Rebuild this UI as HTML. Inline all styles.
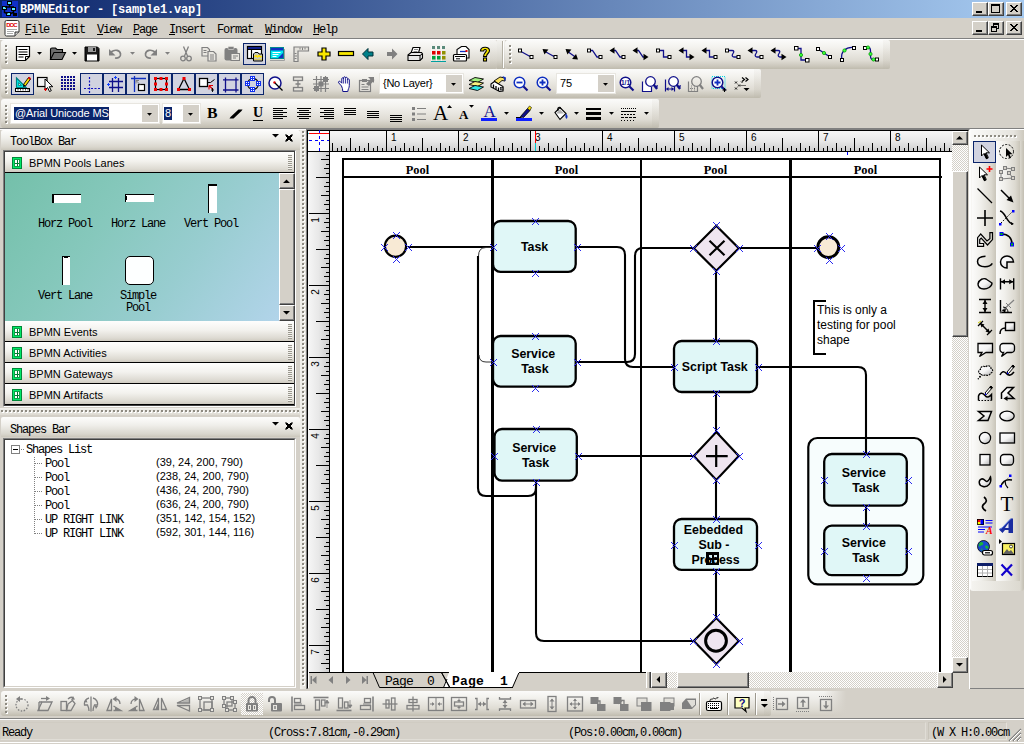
<!DOCTYPE html><html><head><meta charset="utf-8"><title>BPMNEditor</title><style>
*{box-sizing:border-box;margin:0;padding:0}
html,body{width:1024px;height:744px;overflow:hidden;background:#d4d0c8}
body{font-family:"Liberation Mono",monospace;font-size:12px;color:#000;position:relative}
.a{position:absolute}
.ss{font-family:"Liberation Sans",sans-serif}
.sf{font-family:"Liberation Serif",serif}
.mono{font-family:"Liberation Mono",monospace;font-size:12px;letter-spacing:-1.2px;white-space:pre}
.tb{position:absolute;height:29px;border-radius:3px 2px 2px 3px;background:linear-gradient(#fbfbfa 0%,#f3f2ee 25%,#dfdcd4 70%,#cbc7bc 90%,#bfbbae 100%)}
.tb:after{content:'';position:absolute;right:0;top:0;width:7px;height:100%;background:linear-gradient(rgba(212,208,200,0.12),rgba(190,186,174,0.3));border-radius:0 2px 2px 0}
.grip{position:absolute;left:4px;top:5px;width:3px;height:19px}
.chk{position:absolute;width:23px;height:22px;background:#d1d3e0;border:1px solid #0a246a}
.btn3d{position:absolute;background:#d4d0c8;border:1px solid;border-color:#fff #404040 #404040 #fff;box-shadow:inset -1px -1px 0 #808080}
.sunk{position:absolute;border:1px solid;border-color:#808080 #fff #fff #808080}
svg{position:absolute;overflow:visible}
.lbl{position:absolute;text-align:center;font-family:"Liberation Sans",sans-serif;font-weight:bold;font-size:12.4px;line-height:15px}
</style></head><body>
<svg style="left:0;top:0" width="0" height="0"><defs><pattern id="gr" width="4" height="4" patternUnits="userSpaceOnUse"><rect x="1" y="1" width="2" height="2" fill="#fff"/><rect x="0" y="0" width="2" height="2" fill="#8e8b82"/></pattern></defs></svg>
<div class="a" style="left:0;top:0;width:1024px;height:18px;background:linear-gradient(90deg,#0a246a 0%,#a6caf0 100%)"></div>
<div class="a mono" style="left:20px;top:3px;color:#fff;font-weight:bold;font-size:12px;letter-spacing:-0.2px">BPMNEditor - [sample1.vap]</div>
<svg style="left:2px;top:1px" width="16" height="16" viewBox="0 0 16 16"><rect width="16" height="16" fill="#1030c8"/><path d="M5 0h5v4H5zM0 5h5v4H0zM9 6h5v4H9zM4 11h5v4H4zM11 12h4v3h-4z" fill="#000"/><path d="M6 1h3v2H6zM1 6h3v2H1zM10 7h3v2h-3zM5 12h3v2H5z" fill="#60e8ff"/><path d="M7.500 4v2H3M8 6h4M2.500 9v2.500l3 1M11.500 10v1.500l-3 1" stroke="#000" stroke-width="1.500" fill="none"/></svg>
<div class="btn3d" style="left:972px;top:2px;width:16px;height:14px"></div><div class="a" style="left:976px;top:11px;width:6px;height:2px;background:#000"></div><div class="btn3d" style="left:988px;top:2px;width:16px;height:14px"></div><div class="a" style="left:991px;top:4px;width:9px;height:9px;border:1px solid #000;border-top-width:2px"></div><div class="btn3d" style="left:1006px;top:2px;width:16px;height:14px"></div><svg style="left:1010px;top:5px" width="8" height="7" viewBox="0 0 8 7"><path d="M0 0L7 7M1 0L8 7M7 0L0 7M8 0L1 7" stroke="#000" stroke-width="1" shape-rendering="crispEdges"/></svg>
<div class="btn3d" style="left:972px;top:21px;width:16px;height:14px"></div><div class="a" style="left:976px;top:30px;width:6px;height:2px;background:#000"></div><div class="btn3d" style="left:988px;top:21px;width:16px;height:14px"></div><div class="a" style="left:993px;top:23px;width:6px;height:6px;border:1px solid #000;border-top-width:2px"></div><div class="a" style="left:991px;top:26px;width:6px;height:6px;border:1px solid #000;border-top-width:2px;background:#d4d0c8"></div><div class="btn3d" style="left:1006px;top:21px;width:16px;height:14px"></div><svg style="left:1010px;top:24px" width="8" height="7" viewBox="0 0 8 7"><path d="M0 0L7 7M1 0L8 7M7 0L0 7M8 0L1 7" stroke="#000" stroke-width="1" shape-rendering="crispEdges"/></svg>
<svg style="left:4px;top:20px" width="16" height="17" viewBox="0 0 16 17"><path d="M2.500 0.500H13.500Q15 0.500 15 2V12L11 16H2.500Q1 16 1 14.500V2Q1 0.500 2.500 0.500Z" fill="#fff" stroke="#333"/><path d="M11 16V12H15" fill="#ccc" stroke="#333"/><path d="M3 9.500h10M3 11.500h7M3 13.500h6" stroke="#aaa"/><text x="2.200" y="7.200" font-family="Liberation Sans" font-size="6" font-weight="bold" fill="#e00000" textLength="11.500">DOC</text></svg>
<div class="a mono" style="left:25px;top:23px"><u>F</u>ile</div>
<div class="a mono" style="left:61px;top:23px"><u>E</u>dit</div>
<div class="a mono" style="left:97px;top:23px"><u>V</u>iew</div>
<div class="a mono" style="left:133px;top:23px"><u>P</u>age</div>
<div class="a mono" style="left:169px;top:23px"><u>I</u>nsert</div>
<div class="a mono" style="left:217px;top:23px">Format</div>
<div class="a mono" style="left:265px;top:23px"><u>W</u>indow</div>
<div class="a mono" style="left:313px;top:23px"><u>H</u>elp</div>
<div class="a" style="left:0;top:38px;width:1024px;height:1px;background:#808080"></div><div class="a" style="left:0;top:39px;width:1024px;height:1px;background:#fff"></div>
<div class="tb" style="left:1px;top:40px;width:496px"><svg class="grip" style="top:5px" width="3" height="19" viewBox="0 0 3 19" shape-rendering="crispEdges"><rect width="3" height="19" fill="url(#gr)"/></svg></div>
<div class="a" style="left:497px;top:40px;width:8px;height:29px;background:linear-gradient(#f4f3f0 0%,#e9e8e3 25%,#d6d3ca 70%,#c3bfb3 90%,#bab6a9 100%)"></div>
<div class="tb" style="left:505px;top:40px;width:385px"><svg class="grip" style="top:5px" width="3" height="19" viewBox="0 0 3 19" shape-rendering="crispEdges"><rect width="3" height="19" fill="url(#gr)"/></svg></div>
<div class="tb" style="left:1px;top:69px;width:760px"><svg class="grip" style="top:6px" width="3" height="19" viewBox="0 0 3 19" shape-rendering="crispEdges"><rect width="3" height="19" fill="url(#gr)"/></svg></div>
<div class="tb" style="left:1px;top:99px;width:658px"><svg class="grip" style="top:6px" width="3" height="19" viewBox="0 0 3 19" shape-rendering="crispEdges"><rect width="3" height="19" fill="url(#gr)"/></svg></div>
<svg style="left:15.0px;top:45.5px" width="16" height="16" viewBox="0 0 16 16"><path d="M1.500 0.500H14.500V10.500L10.500 14.500H1.500Z" fill="#fff" stroke="#000" stroke-width="1.200"/><path d="M10.500 14.500V10.500H14.500" fill="none" stroke="#000"/><path d="M3.500 3.500h9M3.500 6h9M3.500 8.500h9M3.500 11h5" stroke="#000" stroke-width="1.100"/></svg>
<svg style="left:37.0px;top:52.0px" width="5" height="3" viewBox="0 0 5 3"><path d="M0 0h5L2.500 2.800z" fill="#000"/></svg>
<svg style="left:50.0px;top:45.5px" width="16" height="16" viewBox="0 0 16 16"><path d="M0.500 13.500V3.500Q0.500 2 2 2H5.500L7 3.500H12.500V6" fill="#6e6e6e" stroke="#000" stroke-width="1.100"/><path d="M0.500 13.500L4 6.500H15.500L12 13.500Z" fill="#6e6e6e" stroke="#000" stroke-width="1.100"/></svg>
<svg style="left:72.0px;top:52.0px" width="5" height="3" viewBox="0 0 5 3"><path d="M0 0h5L2.500 2.800z" fill="#000"/></svg>
<svg style="left:84.0px;top:45.5px" width="16" height="16" viewBox="0 0 16 16"><path d="M1 1h12.500L15 2.500V15H1Z" fill="#1a1a1a" stroke="#000"/><rect x="4" y="1" width="8" height="5" fill="#9a9a9a"/><rect x="9" y="2" width="2" height="3" fill="#1a1a1a"/><rect x="3" y="8.500" width="10" height="6" fill="#fff"/></svg>
<svg style="left:108.0px;top:45.5px" width="16" height="16" viewBox="0 0 16 16"><path d="M3 6C7 3 12 4 12.500 8C13 11 10 12.500 7 12" fill="none" stroke="#808080" stroke-width="1.700"/><path d="M1 3v6.500h6.500z" fill="#808080"/></svg>
<svg style="left:130.0px;top:52.0px" width="5" height="3" viewBox="0 0 5 3"><path d="M0 0h5L2.500 2.800z" fill="#808080"/></svg>
<svg style="left:142.0px;top:45.5px" width="16" height="16" viewBox="0 0 16 16"><path d="M13 6C9 3 4 4 3.500 8C3 11 6 12.500 9 12" fill="none" stroke="#808080" stroke-width="1.700"/><path d="M15 3v6.500h-6.500z" fill="#808080"/></svg>
<svg style="left:165.0px;top:52.0px" width="5" height="3" viewBox="0 0 5 3"><path d="M0 0h5L2.500 2.800z" fill="#808080"/></svg>
<svg style="left:177.5px;top:45.5px" width="16" height="16" viewBox="0 0 16 16"><path d="M5.500 0.500L9.500 10M10.500 0.500L6.500 10" stroke="#808080" stroke-width="1.300"/><circle cx="5" cy="12.500" r="2.300" fill="none" stroke="#808080" stroke-width="1.300"/><circle cx="11" cy="12.500" r="2.300" fill="none" stroke="#808080" stroke-width="1.300"/></svg>
<svg style="left:200.5px;top:45.5px" width="16" height="16" viewBox="0 0 16 16"><path d="M1 1.500h5.500l2 2V10H1z" fill="#e8e6e0" stroke="#808080" stroke-width="1.200"/><path d="M7 5.500h5.500l2.500 2.500V15H7z" fill="#e8e6e0" stroke="#808080" stroke-width="1.200"/><path d="M2.500 4.500h3M2.500 6.500h3M9 9h4M9 11h4M9 13h4" stroke="#808080"/></svg>
<svg style="left:223.5px;top:45.5px" width="16" height="16" viewBox="0 0 16 16"><rect x="0.500" y="2" width="13" height="12.500" rx="2" fill="#808080"/><rect x="4" y="0.500" width="6" height="3" rx="1" fill="#808080" stroke="#e8e6e0" stroke-width=".6"/><rect x="7" y="7.500" width="8.500" height="7" fill="#e8e6e0" stroke="#808080"/><path d="M9 10h5M9 12h3" stroke="#808080"/></svg>
<div class="chk" style="left:243px;top:43px"></div>
<svg style="left:247.0px;top:46.0px" width="16" height="16" viewBox="0 0 16 16"><rect x="0.500" y="0.500" width="14" height="12" fill="#fff" stroke="#000" stroke-width="1.200"/><rect x="0.500" y="0.500" width="14" height="3" fill="#10208a" stroke="#000"/><path d="M4.500 3.500v9" stroke="#000" stroke-width="1.200"/><path d="M6.500 15V8L8 6.500h3L12 8h3.500V15Z" fill="#c8c8b8" stroke="#000"/><path d="M7.500 11l1.500-1.500 1.500 1.500 1.500-1.500 1.500 1.500 1-1" stroke="#ffe000" stroke-width="1.500" fill="none"/><path d="M7.500 13.500h7" stroke="#e0c000" stroke-dasharray="1 1"/></svg>
<svg style="left:269.0px;top:45.5px" width="16" height="16" viewBox="0 0 16 16"><rect x="1.500" y="1.500" width="13" height="11" fill="#00e8f0" stroke="#008890"/><rect x="2" y="2" width="12" height="2.500" fill="#1030c0"/><path d="M3.500 6.500h8M3.500 8.500h6M3.500 10.500h4" stroke="#fff" stroke-width="1.200"/><path d="M9 12l5-5v5z" fill="#1030c0"/><path d="M1 14.500h14.500V3" fill="none" stroke="#a0a0a0"/></svg>
<svg style="left:292.5px;top:45.5px" width="16" height="16" viewBox="0 0 16 16"><path d="M1 1H15.500V5H5V15.500H1Z" fill="#e4e2dc" stroke="#808080" stroke-width="1.200"/><path d="M7 1.500v2M9.500 1.500v2.500M12 1.500v2M1.500 7.500h2M1.500 10h2.500M1.500 12.500h2" stroke="#808080"/></svg>
<svg style="left:315.5px;top:45.5px" width="16" height="16" viewBox="0 0 16 16"><path d="M6 2h4v4h4v4h-4v4H6v-4H2V6h4z" fill="#f8e800" stroke="#000" stroke-width="1.200"/></svg>
<svg style="left:337.5px;top:45.0px" width="16" height="17" viewBox="0 0 16 17"><rect x="0.500" y="6.500" width="15" height="4" fill="#f8e800" stroke="#000" stroke-width="1.200"/></svg>
<svg style="left:360.0px;top:45.5px" width="16" height="16" viewBox="0 0 16 16"><path d="M2.500 8L8 2.500V6H13V10H8V13.500Z" fill="#008088" stroke="#003038" stroke-width="1"/></svg>
<svg style="left:384.0px;top:45.5px" width="16" height="16" viewBox="0 0 16 16"><path d="M13.500 8L8 2.500V6H3V10H8V13.500Z" fill="#808080"/></svg>
<svg style="left:407.0px;top:45.5px" width="16" height="16" viewBox="0 0 16 16"><path d="M4 7L6 1.500H13L11.500 7" fill="#fff" stroke="#000" stroke-width="1.100"/><path d="M1 9L4 6.500H14.500L15.500 8V12L13 14.500H1Z" fill="#e8e8e8" stroke="#000" stroke-width="1.100"/><path d="M1 9.500H13L15.500 8M13 9.500V14.500" fill="none" stroke="#000"/><path d="M7 3.500h4M6.500 5.500h4" stroke="#888"/></svg>
<svg style="left:430.5px;top:45.5px" width="15" height="16" viewBox="0 0 15 16"><rect x="1" y="0" width="3" height="3" fill="#5a8a7a"/><rect x="6" y="0" width="3" height="3" fill="#5a8a7a"/><rect x="11" y="0" width="3" height="3" fill="#5a8a7a"/><rect x="1" y="5" width="3.500" height="3.500" fill="#e00000"/><rect x="6" y="5" width="3.500" height="3.500" fill="#e00000"/><rect x="11" y="5" width="3.500" height="3.500" fill="#909000"/><rect x="1" y="10" width="3.500" height="3.500" fill="#00a040"/><rect x="6" y="10" width="3.500" height="3.500" fill="#00a040"/><rect x="11" y="10" width="3.500" height="3.500" fill="#909000"/><path d="M0 15.500h15" stroke="#00a0a0"/><path d="M0.500 0V15M5.500 0V15M10.500 0V15" stroke="#fff" stroke-width=".6"/></svg>
<svg style="left:453.0px;top:45.5px" width="17" height="16" viewBox="0 0 17 16"><path d="M4 8V3.500L8.500 0.500H13L16 3.500V12H13" fill="#fff" stroke="#000" stroke-width="1.100"/><path d="M7 5.500h6" stroke="#1030c0" stroke-width="1.300"/><rect x="12.500" y="4" width="2" height="2" fill="#e00000"/><rect x="0.500" y="8.500" width="13" height="6.500" rx="1" fill="#fff" stroke="#000" stroke-width="1.200"/><path d="M2 10.500h10M3 12.800h4" stroke="#000"/></svg>
<svg style="left:478.5px;top:45.5px" width="12" height="16" viewBox="0 0 12 16"><path d="M1.500 5C1.500 0 10.500 0 10.500 4.500C10.500 7.500 7.500 7.500 7.500 10.500H4.500C4.500 7 7.300 6.500 7.300 4.500C7.300 3 4.700 3 4.700 5Z" fill="#f8e800" stroke="#000" stroke-width="1.100"/><rect x="4.500" y="12" width="3" height="3" fill="#f8e800" stroke="#000" stroke-width="1.100"/></svg>
<div class="a" style="left:503px;top:41px;width:1px;height:27px;background:#fff"></div><div class="a" style="left:502px;top:41px;width:1px;height:27px;background:#b4b0a4"></div>
<svg style="left:517.5px;top:45.5px" width="16" height="16" viewBox="0 0 16 16"><path d="M3 5.500L13 11" stroke="#10108a" stroke-width="1.300"/><rect x="0.5" y="3" width="3" height="3" fill="#fff" stroke="#000"/><rect x="12" y="9.5" width="3" height="3" fill="#fff" stroke="#000"/></svg>
<svg style="left:541.5px;top:45.5px" width="16" height="16" viewBox="0 0 16 16"><path d="M3 5.500L13 11" stroke="#10108a" stroke-width="1.300"/><path d="M0 0L-5 -3.200V3.200Z" fill="#000" transform="translate(0.5,3) rotate(-142)"/><rect x="12" y="9.5" width="3" height="3" fill="#fff" stroke="#000"/></svg>
<svg style="left:563.6px;top:45.5px" width="16" height="16" viewBox="0 0 16 16"><path d="M3 5L12 11.500" stroke="#10108a" stroke-width="1.300"/><path d="M0 0L-5 -3.200V3.200Z" fill="#000" transform="translate(1.5,3) rotate(-142)"/><path d="M0 0L-5 -3.200V3.200Z" fill="#000" transform="translate(14,13.5) rotate(38)"/></svg>
<svg style="left:586.5px;top:45.5px" width="16" height="16" viewBox="0 0 16 16"><path d="M3.500 4.500H5.500L10 11H12" fill="none" stroke="#10108a" stroke-width="1.300"/><rect x="0.5" y="3" width="3" height="3" fill="#fff" stroke="#000"/><rect x="12" y="9.5" width="3" height="3" fill="#fff" stroke="#000"/></svg>
<svg style="left:609.7px;top:45.5px" width="16" height="16" viewBox="0 0 16 16"><path d="M3.500 4.500H5.500L10 11H12" fill="none" stroke="#10108a" stroke-width="1.300"/><path d="M0 0L-5 -3.200V3.200Z" fill="#000" transform="translate(-0.5,4.5) rotate(180)"/><rect x="12" y="9.5" width="3" height="3" fill="#fff" stroke="#000"/></svg>
<svg style="left:632.5px;top:45.5px" width="16" height="16" viewBox="0 0 16 16"><path d="M3.500 4.500H5.500L10 11H12" fill="none" stroke="#10108a" stroke-width="1.300"/><path d="M0 0L-5 -3.200V3.200Z" fill="#000" transform="translate(-0.5,4.5) rotate(180)"/><path d="M0 0L-5 -3.200V3.200Z" fill="#000" transform="translate(15.5,11) rotate(0)"/></svg>
<svg style="left:655.7px;top:45.5px" width="16" height="16" viewBox="0 0 16 16"><path d="M3.500 4.500H7.500V11H12" fill="none" stroke="#10108a" stroke-width="1.300"/><rect x="0.5" y="3" width="3" height="3" fill="#fff" stroke="#000"/><rect x="12" y="9.5" width="3" height="3" fill="#fff" stroke="#000"/></svg>
<svg style="left:678.6px;top:45.5px" width="16" height="16" viewBox="0 0 16 16"><path d="M3.500 4.500H7.500V11H12" fill="none" stroke="#10108a" stroke-width="1.300"/><path d="M0 0L-5 -3.200V3.200Z" fill="#000" transform="translate(-0.5,4.5) rotate(180)"/><path d="M0 0L-5 -3.200V3.200Z" fill="#000" transform="translate(15.5,11) rotate(0)"/></svg>
<svg style="left:701.5px;top:45.5px" width="16" height="16" viewBox="0 0 16 16"><path d="M3.500 4.500H7.500V11H12" fill="none" stroke="#10108a" stroke-width="1.300"/><path d="M0 0L-5 -3.200V3.200Z" fill="#000" transform="translate(-0.5,4.5) rotate(180)"/><rect x="12" y="9.5" width="3" height="3" fill="#fff" stroke="#000"/></svg>
<svg style="left:724.5px;top:45.5px" width="16" height="16" viewBox="0 0 16 16"><path d="M3.500 4.500H7Q10 4.500 8 7.500T9 11H12" fill="none" stroke="#10108a" stroke-width="1.300"/><rect x="0.5" y="3" width="3" height="3" fill="#fff" stroke="#000"/><rect x="12" y="9.5" width="3" height="3" fill="#fff" stroke="#000"/></svg>
<svg style="left:747.5px;top:45.5px" width="16" height="16" viewBox="0 0 16 16"><path d="M3.500 4.500H7Q10 4.500 8 7.500T9 11H12" fill="none" stroke="#10108a" stroke-width="1.300"/><path d="M0 0L-5 -3.200V3.200Z" fill="#000" transform="translate(-0.5,4.5) rotate(180)"/><rect x="12" y="9.5" width="3" height="3" fill="#fff" stroke="#000"/></svg>
<svg style="left:770.5px;top:45.5px" width="16" height="16" viewBox="0 0 16 16"><path d="M3.500 4.500H7Q10 4.500 8 7.500T9 11H12" fill="none" stroke="#10108a" stroke-width="1.300"/><path d="M0 0L-5 -3.200V3.200Z" fill="#000" transform="translate(-0.5,4.5) rotate(180)"/><path d="M0 0L-5 -3.200V3.200Z" fill="#000" transform="translate(15.5,11) rotate(0)"/></svg>
<svg style="left:793.7px;top:45.5px" width="16" height="16" viewBox="0 0 16 16"><path d="M3 2.500H7V14H12" fill="none" stroke="#10108a" stroke-width="1.300"/><rect x="0.5" y="0.5" width="3.500" height="3.500" fill="#fff" stroke="#000"/><rect x="11.5" y="12.5" width="3.500" height="3.500" fill="#fff" stroke="#000"/><circle cx="7" cy="9" r="1.600" fill="#40ff40" stroke="#00a000" stroke-width=".8"/></svg>
<svg style="left:816.0px;top:45.5px" width="16" height="16" viewBox="0 0 16 16"><path d="M2 3L14 11" fill="none" stroke="#10108a" stroke-width="1.300"/><rect x="0.500" y="1.500" width="3" height="3" fill="#fff" stroke="#000"/><rect x="12.500" y="9.500" width="3" height="3" fill="#fff" stroke="#000"/><circle cx="8" cy="7" r="1.600" fill="#40ff40" stroke="#00a000" stroke-width=".8"/></svg>
<svg style="left:840.0px;top:45.5px" width="16" height="16" viewBox="0 0 16 16"><path d="M2 13C0 6 6 1 13 1.500" fill="none" stroke="#10108a" stroke-width="1.300"/><rect x="12.500" y="0.500" width="3" height="3" fill="#fff" stroke="#000"/><rect x="0.500" y="12.500" width="3" height="3" fill="#fff" stroke="#000"/><circle cx="4.5" cy="4.5" r="1.600" fill="#40ff40" stroke="#00a000" stroke-width=".8"/></svg>
<svg style="left:863.0px;top:45.5px" width="16" height="16" viewBox="0 0 16 16"><path d="M3 1.500H5Q7.500 1.500 7.500 5V10Q7.500 13.500 10 13.500H13" fill="none" stroke="#10108a" stroke-width="1.300"/><rect x="0.500" y="0.500" width="3" height="3" fill="#fff" stroke="#000"/><rect x="12.500" y="12" width="3" height="3" fill="#fff" stroke="#000"/><circle cx="5" cy="1.5" r="1.600" fill="#40ff40" stroke="#00a000" stroke-width=".8"/><circle cx="7.5" cy="8" r="1.600" fill="#40ff40" stroke="#00a000" stroke-width=".8"/><circle cx="10.5" cy="13.5" r="1.600" fill="#40ff40" stroke="#00a000" stroke-width=".8"/></svg>
<div class="chk" style="left:11px;top:73px"></div>
<svg style="left:14.5px;top:75.5px" width="16" height="16" viewBox="0 0 16 16"><path d="M1.500 11.500L1.500 2L11 11.500Z" fill="#00e8e8" stroke="#008080" stroke-width="1.200"/><path d="M3.500 9.500V6.500L6.500 9.500Z" fill="#d1d3e0" stroke="#008080" stroke-width=".8"/><rect x="0.500" y="12.500" width="14" height="3" fill="#fff" stroke="#000"/><path d="M3 13v1.500M5.500 13v1.500M8 13v1.500M10.500 13v1.500M13 13v1.500" stroke="#000" stroke-width=".7"/><path d="M8.500 8.500L13.500 1.500L15.500 3L10.500 10Z" fill="#f8e000" stroke="#000" stroke-width=".9"/><path d="M8.500 8.500L8 11l2.500-1z" fill="#000"/><path d="M13.500 1.500l2 1.500" stroke="#e00000" stroke-width="2"/></svg>
<svg style="left:37.0px;top:75.5px" width="17" height="16" viewBox="0 0 17 16"><rect x="0.500" y="1.500" width="9.500" height="9" fill="#f4f4f4" stroke="#000" stroke-width="1.200"/><path d="M8 3v11l2.500-2.500 2 4 1.800-.8-2-4h3.500z" fill="#fff" stroke="#000" stroke-width="1"/><path d="M7 13.500h3M8.500 12v3" stroke="#e00000" stroke-width="1.200"/></svg>
<svg style="left:61px;top:76px" width="14" height="14" viewBox="0 0 14 14" shape-rendering="crispEdges"><rect x="0" y="0" width="2" height="2" fill="#10108a"/><rect x="0" y="3" width="2" height="2" fill="#10108a"/><rect x="0" y="6" width="2" height="2" fill="#10108a"/><rect x="0" y="9" width="2" height="2" fill="#10108a"/><rect x="0" y="12" width="2" height="2" fill="#10108a"/><rect x="3" y="0" width="2" height="2" fill="#10108a"/><rect x="3" y="3" width="2" height="2" fill="#10108a"/><rect x="3" y="6" width="2" height="2" fill="#10108a"/><rect x="3" y="9" width="2" height="2" fill="#10108a"/><rect x="3" y="12" width="2" height="2" fill="#10108a"/><rect x="6" y="0" width="2" height="2" fill="#10108a"/><rect x="6" y="3" width="2" height="2" fill="#10108a"/><rect x="6" y="6" width="2" height="2" fill="#10108a"/><rect x="6" y="9" width="2" height="2" fill="#10108a"/><rect x="6" y="12" width="2" height="2" fill="#10108a"/><rect x="9" y="0" width="2" height="2" fill="#10108a"/><rect x="9" y="3" width="2" height="2" fill="#10108a"/><rect x="9" y="6" width="2" height="2" fill="#10108a"/><rect x="9" y="9" width="2" height="2" fill="#10108a"/><rect x="9" y="12" width="2" height="2" fill="#10108a"/><rect x="12" y="0" width="2" height="2" fill="#10108a"/><rect x="12" y="3" width="2" height="2" fill="#10108a"/><rect x="12" y="6" width="2" height="2" fill="#10108a"/><rect x="12" y="9" width="2" height="2" fill="#10108a"/><rect x="12" y="12" width="2" height="2" fill="#10108a"/></svg>
<div class="chk" style="left:80px;top:73px"></div>
<div class="chk" style="left:103px;top:73px"></div>
<div class="chk" style="left:126px;top:73px"></div>
<div class="chk" style="left:149px;top:73px"></div>
<div class="chk" style="left:172px;top:73px"></div>
<div class="chk" style="left:195px;top:73px"></div>
<div class="chk" style="left:218px;top:73px"></div>
<div class="chk" style="left:241px;top:73px"></div>
<svg style="left:83.5px;top:75.5px" width="16" height="16" viewBox="0 0 16 16"><path d="M5.500 1V17M0 12.500H16" stroke="#1010c0" stroke-dasharray="2 1.500" stroke-width="1.200"/></svg>
<svg style="left:106.5px;top:75.5px" width="16" height="16" viewBox="0 0 16 16"><path d="M5.500 2V16M11.500 2V16M2 5.500H16M2 11.500H16" stroke="#10108a" stroke-width="1.300"/><path d="M0 8.500h3M1.500 7v3M8.500 0v3M7 1.500h3" stroke="#1040ff" stroke-width="1"/></svg>
<svg style="left:129.5px;top:75.5px" width="16" height="16" viewBox="0 0 16 16"><path d="M4.500 0V16M1 2.500H16" stroke="#1030c0" stroke-width="1.300"/><rect x="8.500" y="8.500" width="6" height="6" fill="#fff" stroke="#000" stroke-width="1.200"/><path d="M6 4.500l4 4M6 4.500v3M6 4.500h3" stroke="#808080" stroke-width="1"/></svg>
<svg style="left:152.5px;top:75.5px" width="16" height="16" viewBox="0 0 16 16"><rect x="2.500" y="2.500" width="11" height="11" fill="none" stroke="#000" stroke-width="1.200"/><rect x="1" y="1" width="3" height="3" fill="#f00000"/><rect x="6.5" y="1" width="3" height="3" fill="#f00000"/><rect x="12" y="1" width="3" height="3" fill="#f00000"/><rect x="1" y="6.5" width="3" height="3" fill="#f00000"/><rect x="12" y="6.5" width="3" height="3" fill="#f00000"/><rect x="1" y="12" width="3" height="3" fill="#f00000"/><rect x="6.5" y="12" width="3" height="3" fill="#f00000"/><rect x="12" y="12" width="3" height="3" fill="#f00000"/></svg>
<svg style="left:175.5px;top:75.5px" width="16" height="16" viewBox="0 0 16 16"><path d="M8 2.500L2.500 13.500H13.500Z" fill="none" stroke="#000" stroke-width="1.300"/><rect x="6.500" y="1" width="3" height="3" fill="#f00000"/><rect x="1" y="12" width="3" height="3" fill="#f00000"/><rect x="12" y="12" width="3" height="3" fill="#f00000"/></svg>
<svg style="left:198.5px;top:75.5px" width="16" height="16" viewBox="0 0 16 16"><rect x="0.500" y="2.500" width="8" height="8" fill="#fff" stroke="#000" stroke-width="1.300"/><path d="M8.500 6.500h3l4-3" stroke="#000" fill="none"/><path d="M10 9.500h4M10 9.500v4M10 9.500l4 4" stroke="#e00000" stroke-width="1.100"/><path d="M13.500 12v4M12 14h3" stroke="#000" stroke-width=".9"/></svg>
<svg style="left:221.5px;top:75.5px" width="16" height="16" viewBox="0 0 16 16"><path d="M3.500 1.500V16.500M14 1.500V16.500M1 3.800H16.500M1 14H16.500" stroke="#10108a" stroke-width="1.300"/></svg>
<svg style="left:245px;top:76px" width="16" height="16" viewBox="0 0 16 16"><circle cx="8" cy="8" r="5.500" fill="none" stroke="#000" stroke-width="1.200"/><g shape-rendering="crispEdges"><rect x="5" y="0" width="5" height="5" fill="#1030f0"/><rect x="6" y="1" width="1" height="1" fill="#fff"/><rect x="8" y="1" width="1" height="1" fill="#fff"/><rect x="6" y="3" width="1" height="1" fill="#fff"/><rect x="8" y="3" width="1" height="1" fill="#fff"/><rect x="5" y="11" width="5" height="5" fill="#1030f0"/><rect x="6" y="12" width="1" height="1" fill="#fff"/><rect x="8" y="12" width="1" height="1" fill="#fff"/><rect x="6" y="14" width="1" height="1" fill="#fff"/><rect x="8" y="14" width="1" height="1" fill="#fff"/><rect x="0" y="5" width="5" height="5" fill="#1030f0"/><rect x="1" y="6" width="1" height="1" fill="#fff"/><rect x="3" y="6" width="1" height="1" fill="#fff"/><rect x="1" y="8" width="1" height="1" fill="#fff"/><rect x="3" y="8" width="1" height="1" fill="#fff"/><rect x="11" y="5" width="5" height="5" fill="#1030f0"/><rect x="12" y="6" width="1" height="1" fill="#fff"/><rect x="14" y="6" width="1" height="1" fill="#fff"/><rect x="12" y="8" width="1" height="1" fill="#fff"/><rect x="14" y="8" width="1" height="1" fill="#fff"/></g></svg>
<svg style="left:267.5px;top:75.5px" width="16" height="16" viewBox="0 0 16 16"><circle cx="7" cy="7" r="6" fill="#fff" stroke="#10108a" stroke-width="1.500"/><circle cx="6.500" cy="6.500" r="1.200" fill="#e00000"/><path d="M7 7L14.500 14.500" stroke="#000" stroke-width="1.300"/></svg>
<svg style="left:289.5px;top:75.5px" width="16" height="16" viewBox="0 0 16 16"><rect x="3.500" y="1" width="9" height="3.500" fill="#e4e2dc" stroke="#808080" stroke-width="1.300"/><rect x="3.500" y="11.500" width="9" height="3.500" fill="#e4e2dc" stroke="#808080" stroke-width="1.300"/><path d="M8 4.500v7M5.500 8h5" stroke="#808080" stroke-width="1.300"/></svg>
<svg style="left:312.5px;top:75.5px" width="16" height="16" viewBox="0 0 16 16"><path d="M3.500 0V16M8 0V16M12.500 0V16M0 3.500H16M0 8H16M0 12.500H16" stroke="#808080" stroke-width="1.200"/><rect x="10" y="1" width="5" height="5" fill="#808080"/><rect x="5.500" y="5.500" width="5" height="5" fill="#808080"/><rect x="1" y="10" width="5" height="5" fill="#808080"/></svg>
<svg style="left:336.5px;top:75.5px" width="14" height="16" viewBox="0 0 14 16"><path d="M4.500 10L1.800 7C0.800 5.800 2.300 4.600 3.300 5.600L4.800 7.200V2.800C4.800 1.400 6.600 1.400 6.600 2.800V1.800C6.600 0.400 8.500 0.400 8.500 1.800V2.300C8.500 1 10.400 1 10.400 2.300V3.800C10.400 2.600 12.300 2.600 12.300 3.800V9.500C12.300 12 11 13 10.800 15.500H5.800C5.800 13.500 5.300 11.500 4.500 10Z" fill="#fff" stroke="#10108a" stroke-width="1"/><path d="M6.600 3V7.500M8.500 2.500V7.500M10.400 4V7.500" stroke="#10108a" stroke-width=".8"/></svg>
<svg style="left:358.5px;top:75.5px" width="16" height="16" viewBox="0 0 16 16"><rect x="0.500" y="4.500" width="11" height="11" fill="#e4e2dc" stroke="#808080" stroke-width="1.200"/><rect x="3" y="3" width="5" height="3" fill="#808080"/><path d="M2.500 8.500h3M2.500 11h7M2.500 13.500h7" stroke="#808080"/><path d="M7 8L13 1.500L15.500 4L10 10Z" fill="#808080"/><path d="M9 1l6 0 0 6z" fill="#808080"/></svg>
<div class="a" style="left:380px;top:74px;width:83px;height:19px;background:#fff;border:1px solid #fff;box-shadow:0 0 0 1px #e8e6e0"></div>
<div class="a" style="left:446px;top:75px;width:16px;height:17px;background:#d4d0c8"></div>
<svg style="left:451.0px;top:82.5px" width="5" height="3" viewBox="0 0 5 3"><path d="M0 0h5L2.500 2.800z" fill="#000"/></svg>
<div class="a ss" style="left:383px;top:76px;font-size:11px;line-height:14px;letter-spacing:-0.25px">{No Layer}</div>
<svg style="left:467.5px;top:75.5px" width="16" height="16" viewBox="0 0 16 16"><path d="M1 4.500L7 1.500L15.500 3L9.500 6.500Z" fill="#a0f080" stroke="#000" stroke-width=".9"/><path d="M1 8.500L7 5.500L15.500 7L9.500 10.500Z" fill="#f8f080" stroke="#000" stroke-width=".9"/><path d="M1 12.500L7 9.500L15.500 11L9.500 14.500Z" fill="#30e8e8" stroke="#000" stroke-width=".9"/></svg>
<svg style="left:490.0px;top:75.5px" width="16" height="16" viewBox="0 0 16 16"><path d="M4 5L10 1L15 2L15 5L12 4.500L8 8Z" fill="#f8e060" stroke="#000" stroke-width=".9"/><path d="M12.500 0l3.500 1.500-1 4z" fill="#1030c0"/><path d="M1 8L4.500 5.500L13 10.500V15L9.500 15.500L1 11Z" fill="#fff" stroke="#000" stroke-width="1.100"/><path d="M3.500 8.500v3.500M6 10v3.500M8.500 11.500v3.500" stroke="#000" stroke-width="1.300"/><rect x="10.500" y="11.500" width="2.500" height="2.500" fill="#808080" stroke="#000" stroke-width=".6"/></svg>
<svg style="left:512.5px;top:75.5px" width="16" height="16" viewBox="0 0 16 16"><circle cx="6.500" cy="6.500" r="5.300" fill="#fff" stroke="#1030c0" stroke-width="1.500"/><path d="M10.500 10.500L14.500 14.500" stroke="#10108a" stroke-width="2.200"/><path d="M3.500 6.500h6" stroke="#1030c0" stroke-width="1.800"/></svg>
<svg style="left:535.5px;top:75.5px" width="16" height="16" viewBox="0 0 16 16"><circle cx="6.500" cy="6.500" r="5.300" fill="#fff" stroke="#1030c0" stroke-width="1.500"/><path d="M10.500 10.500L14.500 14.500" stroke="#10108a" stroke-width="2.200"/><path d="M3.500 6.500h6M6.500 3.500v6" stroke="#1030c0" stroke-width="1.800"/></svg>
<div class="a" style="left:557px;top:74px;width:58px;height:19px;background:#fff;border:1px solid #fff;box-shadow:0 0 0 1px #e8e6e0"></div>
<div class="a" style="left:598px;top:75px;width:16px;height:17px;background:#d4d0c8"></div>
<svg style="left:603.0px;top:82.5px" width="5" height="3" viewBox="0 0 5 3"><path d="M0 0h5L2.500 2.800z" fill="#000"/></svg>
<div class="a ss" style="left:560px;top:76px;font-size:11px;line-height:14px">75</div>
<svg style="left:618.5px;top:75.5px" width="16" height="16" viewBox="0 0 16 16"><circle cx="6.500" cy="6.500" r="5.300" fill="#fff" stroke="#10108a" stroke-width="1.500"/><path d="M10.500 10.500L14.500 14.500" stroke="#10108a" stroke-width="2.200"/><text x="6.500" y="9" font-family="Liberation Sans" font-size="6.500" font-weight="bold" text-anchor="middle" fill="#10108a">1/1</text></svg>
<svg style="left:642.0px;top:75.5px" width="16" height="16" viewBox="0 0 16 16"><path d="M0.500 5.500V15.500H9.500V11" fill="#fff" stroke="#10108a" stroke-width="1.200"/><circle cx="8.500" cy="5.500" r="4.800" fill="#fff" stroke="#10108a" stroke-width="1.300"/><path d="M11.500 8.500L15 13" stroke="#10108a" stroke-width="2.200"/><path d="M15 13l1-4-3 1z" fill="#10108a"/></svg>
<svg style="left:665.0px;top:75.5px" width="16" height="16" viewBox="0 0 16 16"><path d="M0.500 3.500V15.500M9.500 10V15.500" stroke="#10108a" stroke-width="1.200"/><path d="M1.500 13h7" stroke="#10108a"/><path d="M1 13l2.500-2v4zM9 13l-2.500-2v4z" fill="#10108a"/><circle cx="8.500" cy="5.500" r="4.800" fill="#fff" stroke="#10108a" stroke-width="1.300"/><path d="M11.500 8.500L15 13" stroke="#10108a" stroke-width="2.200"/><path d="M15 13l1-4-3 1z" fill="#10108a"/></svg>
<svg style="left:688.0px;top:75.5px" width="16" height="16" viewBox="0 0 16 16"><path d="M0.500 5.500V15.500H9.500V10" fill="none" stroke="#808080" stroke-width="1.200"/><path d="M2 12.500h6M3.500 9.500v5M6.500 9.500v5" stroke="#808080" stroke-dasharray="1 1"/><circle cx="8.500" cy="5.500" r="4.800" fill="none" stroke="#808080" stroke-width="1.300"/><path d="M11.500 8.500L15 13" stroke="#808080" stroke-width="2.200"/></svg>
<svg style="left:711.0px;top:75.5px" width="16" height="16" viewBox="0 0 16 16"><rect x="1" y="0.500" width="13" height="12" fill="none" stroke="#00d8e8" stroke-dasharray="1 1"/><circle cx="6.500" cy="6.500" r="5.300" fill="#fff" stroke="#10108a" stroke-width="1.500"/><path d="M10.500 10.500L14.500 14.500" stroke="#10108a" stroke-width="2.200"/><path d="M3.500 6.500h6M6.500 3.500v6" stroke="#1030c0" stroke-width="1.800"/><path d="M11.500 14h4M13.500 12v4" stroke="#000" stroke-width="1.100"/></svg>
<svg style="left:734.0px;top:75.5px" width="16" height="16" viewBox="0 0 16 16"><path d="M8 1.500l2.500 2-2.500 2M11.500 1.500l2.500 2-2.500 2" fill="none" stroke="#000" stroke-width="1.200"/><path d="M1 5.500l2 2M3 5.500l-2 2M4 8.500l2 2M6 8.500l-2 2M1 11.500l2 2M3 11.500l-2 2M7 5.500l1.500 1.500" stroke="#000" stroke-width=".9"/><path d="M6.500 9.500h5" stroke="#000" stroke-dasharray="1 1"/><path d="M9.500 12h6l-3 3z" fill="#000"/></svg>
<div class="a" style="left:11px;top:104px;width:148px;height:19px;background:#fff;border:1px solid #fff;box-shadow:0 0 0 1px #e8e6e0"></div>
<div class="a" style="left:142px;top:105px;width:16px;height:17px;background:#d4d0c8"></div>
<svg style="left:147.0px;top:112.5px" width="5" height="3" viewBox="0 0 5 3"><path d="M0 0h5L2.500 2.800z" fill="#000"/></svg>
<div class="a" style="left:14px;top:107px;width:95px;height:13px;background:#0a246a"></div>
<div class="a ss" style="left:15px;top:106px;font-size:11px;line-height:14px;color:#fff;letter-spacing:-0.15px">@Arial Unicode MS</div>
<div class="a" style="left:163px;top:104px;width:37px;height:19px;background:#fff;border:1px solid #fff;box-shadow:0 0 0 1px #e8e6e0"></div>
<div class="a" style="left:183px;top:105px;width:16px;height:17px;background:#d4d0c8"></div>
<svg style="left:188.0px;top:112.5px" width="5" height="3" viewBox="0 0 5 3"><path d="M0 0h5L2.500 2.800z" fill="#000"/></svg>
<div class="a" style="left:164px;top:107px;width:8px;height:13px;background:#0a246a"></div>
<div class="a ss" style="left:165px;top:106px;font-size:11px;line-height:14px;color:#fff">8</div>
<div class="a sf" style="left:207px;top:104px;font-size:15px;line-height:18px;font-weight:bold;transform:scaleX(1.05);transform-origin:0 0">B</div>
<svg style="left:227.5px;top:105.5px" width="16" height="16" viewBox="0 0 16 16"><path d="M10.500 3.500H14.500L13.500 5L5.500 12.500H1.500L2.500 11Z" fill="#000"/></svg>
<div class="a sf" style="left:253px;top:104px;font-size:14px;line-height:18px;font-weight:bold">U</div><div class="a" style="left:253px;top:120px;width:10px;height:1px;background:#000"></div>
<svg style="left:273px;top:100px" width="14" height="27" viewBox="0 0 14 27" shape-rendering="crispEdges"><rect x="0" y="8" width="14" height="1" fill="#000"/><rect x="0" y="10" width="10" height="1" fill="#000"/><rect x="0" y="12" width="14" height="1" fill="#000"/><rect x="0" y="14" width="10" height="1" fill="#000"/><rect x="0" y="16" width="14" height="1" fill="#000"/><rect x="0" y="18" width="10" height="1" fill="#000"/></svg>
<svg style="left:297px;top:100px" width="14" height="27" viewBox="0 0 14 27" shape-rendering="crispEdges"><rect x="0.0" y="8" width="14" height="1" fill="#000"/><rect x="2.0" y="10" width="10" height="1" fill="#000"/><rect x="0.0" y="12" width="14" height="1" fill="#000"/><rect x="2.0" y="14" width="10" height="1" fill="#000"/><rect x="0.0" y="16" width="14" height="1" fill="#000"/><rect x="2.0" y="18" width="10" height="1" fill="#000"/></svg>
<svg style="left:320px;top:100px" width="14" height="27" viewBox="0 0 14 27" shape-rendering="crispEdges"><rect x="0" y="8" width="14" height="1" fill="#000"/><rect x="4" y="10" width="10" height="1" fill="#000"/><rect x="0" y="12" width="14" height="1" fill="#000"/><rect x="4" y="14" width="10" height="1" fill="#000"/><rect x="0" y="16" width="14" height="1" fill="#000"/><rect x="4" y="18" width="10" height="1" fill="#000"/></svg>
<svg style="left:343px;top:100px" width="14" height="27" viewBox="0 0 14 27" shape-rendering="crispEdges"><rect x="1.0" y="8" width="12" height="1" fill="#000"/><rect x="1.0" y="10" width="12" height="1" fill="#000"/><rect x="1.0" y="12" width="12" height="1" fill="#000"/><rect x="1.0" y="14" width="12" height="1" fill="#000"/></svg>
<svg style="left:366px;top:100px" width="14" height="27" viewBox="0 0 14 27" shape-rendering="crispEdges"><rect x="1.0" y="11" width="12" height="1" fill="#000"/><rect x="1.0" y="13" width="12" height="1" fill="#000"/><rect x="1.0" y="15" width="12" height="1" fill="#000"/><rect x="1.0" y="17" width="12" height="1" fill="#000"/></svg>
<svg style="left:389px;top:100px" width="14" height="27" viewBox="0 0 14 27" shape-rendering="crispEdges"><rect x="1.0" y="15" width="12" height="1" fill="#000"/><rect x="1.0" y="17" width="12" height="1" fill="#000"/><rect x="1.0" y="19" width="12" height="1" fill="#000"/><rect x="1.0" y="21" width="12" height="1" fill="#000"/></svg>
<svg style="left:411.5px;top:105.5px" width="14" height="16" viewBox="0 0 14 16"><rect x="0" y="1" width="3" height="3" fill="#808080"/><rect x="0" y="6.500" width="3" height="3" fill="#808080"/><rect x="0" y="12" width="3" height="3" fill="#808080"/><path d="M5 2.500h9M5 8h9M5 13.500h9" stroke="#808080" stroke-width="1.200"/></svg>
<div class="a sf" style="left:433px;top:102px;font-size:21px;line-height:22px">A</div>
<svg style="left:447px;top:105px" width="5" height="3"><path d="M0 3h5L2.500 0z" fill="#000"/></svg>
<div class="a sf" style="left:459px;top:108px;font-size:13px;line-height:14px;font-weight:bold">A</div>
<svg style="left:468.5px;top:105.0px" width="5" height="3" viewBox="0 0 5 3"><path d="M0 0h5L2.500 2.800z" fill="#000"/></svg>
<div class="a sf" style="left:483.500px;top:103px;font-size:17px;line-height:18px;color:#10108a">A</div>
<div class="a" style="left:481px;top:118px;width:16px;height:3px;background:#1020ff"></div>
<svg style="left:504.0px;top:112.0px" width="5" height="3" viewBox="0 0 5 3"><path d="M0 0h5L2.500 2.800z" fill="#000"/></svg>
<svg style="left:516.0px;top:104.5px" width="16" height="16" viewBox="0 0 16 16"><path d="M4.500 11.500L11.500 3.500L14 5.500L7.500 12.500Z" fill="#10108a" stroke="#000" stroke-width=".8"/><path d="M4.500 11.500l-1.500 2.500 3.500-.8z" fill="#000"/><path d="M11.500 3.500L13.500 1L15.500 2.500L14 5.500Z" fill="#f8e000" stroke="#000" stroke-width=".6"/><path d="M0 12.500h5" stroke="#000"/></svg>
<div class="a" style="left:516px;top:118px;width:16px;height:3px;background:#1020ff"></div>
<svg style="left:539.0px;top:112.0px" width="5" height="3" viewBox="0 0 5 3"><path d="M0 0h5L2.500 2.800z" fill="#000"/></svg>
<svg style="left:552.0px;top:105.5px" width="16" height="16" viewBox="0 0 16 16"><path d="M3 6.500L8 1.500L14 7.500L8 13.500Z" fill="#fff" stroke="#000" stroke-width="1.100"/><path d="M4 7.500L8 3.500L12 7.500Z" fill="#b0b0b0"/><path d="M6 5C5 1 8 0 9 3" fill="none" stroke="#000" stroke-width="1.100"/><path d="M14 7.500C16 9.500 16 11.500 14.500 13C13 11.500 13 9.500 14 7.500Z" fill="#1030c0"/></svg>
<svg style="left:574.0px;top:112.0px" width="5" height="3" viewBox="0 0 5 3"><path d="M0 0h5L2.500 2.800z" fill="#000"/></svg>
<div class="a" style="left:586px;top:108px;width:15px;height:2px;background:#000"></div><div class="a" style="left:586px;top:112px;width:15px;height:3px;background:#000"></div><div class="a" style="left:586px;top:117px;width:15px;height:3px;background:#000"></div>
<svg style="left:609.0px;top:112.0px" width="5" height="3" viewBox="0 0 5 3"><path d="M0 0h5L2.500 2.800z" fill="#000"/></svg>
<svg style="left:621px;top:107px" width="15" height="14" viewBox="0 0 15 14" shape-rendering="crispEdges"><path d="M0 1.500h15" stroke="#000" stroke-dasharray="1 1"/><path d="M0 4.500h15" stroke="#000"/><path d="M0 7.500h15" stroke="#000" stroke-dasharray="2 1"/><path d="M0 10.500h15" stroke="#000" stroke-dasharray="3 1"/><path d="M0 13.500h15" stroke="#000" stroke-dasharray="1 2"/></svg>
<svg style="left:643.5px;top:112.0px" width="5" height="3" viewBox="0 0 5 3"><path d="M0 0h5L2.500 2.800z" fill="#000"/></svg>
<div class="a" style="left:0;top:128px;width:1024px;height:1px;background:#808080"></div><div class="a" style="left:0;top:129px;width:1024px;height:1px;background:#fff"></div>
<div class="a" style="left:1px;top:130px;width:299px;height:20px;background:linear-gradient(#fdfdfc 0%,#f0efeb 40%,#d9d6cd 85%,#cbc7bc 100%);border-radius:2px 2px 0 0"></div>
<div class="a mono" style="left:10px;top:135px">ToolBox Bar</div>
<svg style="left:272px;top:134px" width="22" height="8" viewBox="0 0 22 8"><path d="M0 0h7L3.5 3.5z" fill="#000"/><path d="M13.5 0.5l7 7M14.5 0.5l6 6M13.5 1.5l6 6M20.5 0.5l-7 7M19.5 0.5l-6 6M20.5 1.5l-6 6" stroke="#000" stroke-width="1"/></svg>
<div class="a" style="left:300px;top:130px;width:6px;height:559px;background:linear-gradient(90deg,#f2f1ed,#e2e0d9)"></div><svg style="left:302px;top:131px" width="3" height="556" viewBox="0 0 3 556" shape-rendering="crispEdges"><rect width="3" height="556" fill="url(#gr)"/></svg>
<div class="a" style="left:4px;top:151px;width:291px;height:255px;border:1px solid #404040;border-top-color:#404040;background:#d4d0c8"></div>
<div class="a" style="left:3px;top:150px;width:293px;height:257px;border:1px solid;border-color:#808080 #fff #fff #808080"></div>
<div class="a" style="left:5px;top:152px;width:289px;height:20px;background:linear-gradient(#fefefd 0%,#f3f2ee 45%,#dddad2 85%,#cfcbc1 100%)"></div><div class="a" style="left:5px;top:172px;width:289px;height:1px;background:#000"></div><svg style="left:12px;top:157px" width="10" height="12" viewBox="0 0 10 12" shape-rendering="crispEdges"><rect x="0.5" y="0.5" width="9" height="11" fill="#00e868" stroke="#008838"/><rect x="2" y="2" width="6" height="8" fill="#fff"/><path d="M5 2v8M2 6h6" stroke="#007830" stroke-width="1"/><rect x="2.5" y="2.5" width="5" height="7" fill="none" stroke="#10a048"/></svg><div class="a ss" style="left:29px;top:156px;font-size:11px;line-height:14px">BPMN Pools Lanes</div><div class="a" style="left:288px;top:155px;width:4px;height:15px;background:repeating-linear-gradient(#9a978d 0 1px,#f4f3ef 1px 2px)"></div>
<div class="a" style="left:5px;top:321px;width:289px;height:20px;background:linear-gradient(#fefefd 0%,#f3f2ee 45%,#dddad2 85%,#cfcbc1 100%)"></div><div class="a" style="left:5px;top:341px;width:289px;height:1px;background:#000"></div><svg style="left:12px;top:326px" width="10" height="12" viewBox="0 0 10 12" shape-rendering="crispEdges"><rect x="0.5" y="0.5" width="9" height="11" fill="#00e868" stroke="#008838"/><rect x="2" y="2" width="6" height="8" fill="#fff"/><path d="M5 2v8M2 6h6" stroke="#007830" stroke-width="1"/><rect x="2.5" y="2.5" width="5" height="7" fill="none" stroke="#10a048"/></svg><div class="a ss" style="left:29px;top:325px;font-size:11px;line-height:14px">BPMN Events</div><div class="a" style="left:288px;top:324px;width:4px;height:15px;background:repeating-linear-gradient(#9a978d 0 1px,#f4f3ef 1px 2px)"></div>
<div class="a" style="left:5px;top:342px;width:289px;height:20px;background:linear-gradient(#fefefd 0%,#f3f2ee 45%,#dddad2 85%,#cfcbc1 100%)"></div><div class="a" style="left:5px;top:362px;width:289px;height:1px;background:#000"></div><svg style="left:12px;top:347px" width="10" height="12" viewBox="0 0 10 12" shape-rendering="crispEdges"><rect x="0.5" y="0.5" width="9" height="11" fill="#00e868" stroke="#008838"/><rect x="2" y="2" width="6" height="8" fill="#fff"/><path d="M5 2v8M2 6h6" stroke="#007830" stroke-width="1"/><rect x="2.5" y="2.5" width="5" height="7" fill="none" stroke="#10a048"/></svg><div class="a ss" style="left:29px;top:346px;font-size:11px;line-height:14px">BPMN Activities</div><div class="a" style="left:288px;top:345px;width:4px;height:15px;background:repeating-linear-gradient(#9a978d 0 1px,#f4f3ef 1px 2px)"></div>
<div class="a" style="left:5px;top:363px;width:289px;height:20px;background:linear-gradient(#fefefd 0%,#f3f2ee 45%,#dddad2 85%,#cfcbc1 100%)"></div><div class="a" style="left:5px;top:383px;width:289px;height:1px;background:#000"></div><svg style="left:12px;top:368px" width="10" height="12" viewBox="0 0 10 12" shape-rendering="crispEdges"><rect x="0.5" y="0.5" width="9" height="11" fill="#00e868" stroke="#008838"/><rect x="2" y="2" width="6" height="8" fill="#fff"/><path d="M5 2v8M2 6h6" stroke="#007830" stroke-width="1"/><rect x="2.5" y="2.5" width="5" height="7" fill="none" stroke="#10a048"/></svg><div class="a ss" style="left:29px;top:367px;font-size:11px;line-height:14px">BPMN Gateways</div><div class="a" style="left:288px;top:366px;width:4px;height:15px;background:repeating-linear-gradient(#9a978d 0 1px,#f4f3ef 1px 2px)"></div>
<div class="a" style="left:5px;top:384px;width:289px;height:20px;background:linear-gradient(#fefefd 0%,#f3f2ee 45%,#dddad2 85%,#cfcbc1 100%)"></div><div class="a" style="left:5px;top:404px;width:289px;height:1px;background:#000"></div><svg style="left:12px;top:389px" width="10" height="12" viewBox="0 0 10 12" shape-rendering="crispEdges"><rect x="0.5" y="0.5" width="9" height="11" fill="#00e868" stroke="#008838"/><rect x="2" y="2" width="6" height="8" fill="#fff"/><path d="M5 2v8M2 6h6" stroke="#007830" stroke-width="1"/><rect x="2.5" y="2.5" width="5" height="7" fill="none" stroke="#10a048"/></svg><div class="a ss" style="left:29px;top:388px;font-size:11px;line-height:14px">BPMN Artifacts</div><div class="a" style="left:288px;top:387px;width:4px;height:15px;background:repeating-linear-gradient(#9a978d 0 1px,#f4f3ef 1px 2px)"></div>
<div class="a" style="left:5px;top:173px;width:274px;height:148px;background:linear-gradient(125deg,#74c0aa 0%,#86c8bc 35%,#98cdd0 65%,#b2d4ea 100%)"></div>
<div class="a" style="left:279px;top:173px;width:16px;height:148px;background-color:#fff;background-image:linear-gradient(45deg,#d4d0c8 25%,transparent 25%,transparent 75%,#d4d0c8 75%),linear-gradient(45deg,#d4d0c8 25%,transparent 25%,transparent 75%,#d4d0c8 75%);background-size:2px 2px;background-position:0 0,1px 1px"></div>
<div class="btn3d" style="left:279px;top:173px;width:16px;height:16px"></div><div class="btn3d" style="left:279px;top:305px;width:16px;height:16px"></div><div class="btn3d" style="left:279px;top:189px;width:16px;height:116px"></div>
<svg style="left:0;top:0" width="1" height="1"><path d="M283 183h7l-3.5-3.5zM283 311h7l-3.5 3.5z" fill="#000"/></svg>
<div class="a" style="left:52px;top:194px;width:29px;height:9px;background:#fff;border-left:2px solid #000;border-top:1px solid #000"></div>
<div class="a" style="left:125px;top:194px;width:29px;height:8px;background:#fff;border-left:1px solid #000;border-top:1px solid #000"></div><div class="a" style="left:125px;top:196px;width:2px;height:4px;background:#000"></div>
<div class="a" style="left:208px;top:184px;width:9px;height:29px;background:#fff;border-left:1px solid #000;border-top:2px solid #000"></div>
<div class="a" style="left:62px;top:256px;width:8px;height:29px;background:#fff;border-left:1px solid #000;border-top:1px solid #000"></div><div class="a" style="left:64px;top:256px;width:4px;height:2px;background:#000"></div>
<div class="a" style="left:125px;top:256px;width:29px;height:29px;background:#fdffff;border:1px solid #000;border-radius:5px"></div>
<div class="a mono" style="left:25px;top:218px;width:80px;text-align:center;line-height:12px">Horz Pool</div>
<div class="a mono" style="left:98px;top:218px;width:80px;text-align:center;line-height:12px">Horz Lane</div>
<div class="a mono" style="left:171px;top:218px;width:80px;text-align:center;line-height:12px">Vert Pool</div>
<div class="a mono" style="left:25px;top:290px;width:80px;text-align:center;line-height:12px">Vert Lane</div>
<div class="a mono" style="left:98px;top:290px;width:80px;text-align:center;line-height:12px">Simple
Pool</div>
<div class="a" style="left:0px;top:408px;width:300px;height:7px;background:linear-gradient(#f2f1ed,#dddad2)"></div><svg style="left:1px;top:410px" width="298" height="3" viewBox="0 0 298 3" shape-rendering="crispEdges"><rect width="298" height="3" fill="url(#gr)"/></svg>
<div class="a" style="left:1px;top:417px;width:299px;height:20px;background:linear-gradient(#fdfdfc 0%,#f0efeb 40%,#d9d6cd 85%,#cbc7bc 100%);border-radius:2px 2px 0 0"></div>
<div class="a mono" style="left:10px;top:423px">Shapes Bar</div>
<svg style="left:272px;top:422px" width="22" height="8" viewBox="0 0 22 8"><path d="M0 0h7L3.5 3.5z" fill="#000"/><path d="M13.5 0.5l7 7M14.5 0.5l6 6M13.5 1.5l6 6M20.5 0.5l-7 7M19.5 0.5l-6 6M20.5 1.5l-6 6" stroke="#000" stroke-width="1"/></svg>
<div class="a" style="left:3px;top:438px;width:293px;height:250px;border:1px solid;border-color:#808080 #fff #fff #808080;background:#fff"><div class="a" style="left:0;top:0;right:0;bottom:0;border:1px solid;border-color:#404040 #d4d0c8 #d4d0c8 #404040"></div></div>
<svg style="left:0;top:0" width="300" height="744" viewBox="0 0 300 744" shape-rendering="crispEdges"><rect x="11.5" y="445.5" width="8" height="8" fill="#fff" stroke="#808080"/><path d="M13 449.5h5" stroke="#000"/><path d="M21 449.5h4" stroke="#808080" stroke-dasharray="1 1"/><path d="M34.5 457V534" stroke="#808080" stroke-dasharray="1 1"/><path d="M35 463.5h8" stroke="#808080" stroke-dasharray="1 1"/><path d="M35 477.5h8" stroke="#808080" stroke-dasharray="1 1"/><path d="M35 491.5h8" stroke="#808080" stroke-dasharray="1 1"/><path d="M35 505.5h8" stroke="#808080" stroke-dasharray="1 1"/><path d="M35 519.5h8" stroke="#808080" stroke-dasharray="1 1"/><path d="M35 533.5h8" stroke="#808080" stroke-dasharray="1 1"/></svg>
<div class="a mono" style="left:26px;top:443px">Shapes List</div>
<div class="a mono" style="left:45px;top:457px">Pool</div>
<div class="a ss" style="left:156px;top:455px;font-size:11px;line-height:14px;white-space:pre">(39, 24, 200, 790)</div>
<div class="a mono" style="left:45px;top:471px">Pool</div>
<div class="a ss" style="left:156px;top:469px;font-size:11px;line-height:14px;white-space:pre">(238, 24, 200, 790)</div>
<div class="a mono" style="left:45px;top:485px">Pool</div>
<div class="a ss" style="left:156px;top:483px;font-size:11px;line-height:14px;white-space:pre">(436, 24, 200, 790)</div>
<div class="a mono" style="left:45px;top:499px">Pool</div>
<div class="a ss" style="left:156px;top:497px;font-size:11px;line-height:14px;white-space:pre">(636, 24, 200, 790)</div>
<div class="a mono" style="left:45px;top:513px">UP RIGHT LINK</div>
<div class="a ss" style="left:156px;top:511px;font-size:11px;line-height:14px;white-space:pre">(351, 142, 154, 152)</div>
<div class="a mono" style="left:45px;top:527px">UP RIGHT LINK</div>
<div class="a ss" style="left:156px;top:525px;font-size:11px;line-height:14px;white-space:pre">(592, 301, 144, 116)</div>

<div class="a" style="left:306px;top:129px;width:664px;height:561px;border:1px solid;border-color:#808080 #fff #fff #808080;background:#fff"><div class="a" style="left:0;top:0;right:0;bottom:0;border:1px solid;border-color:#000 #d4d0c8 #d4d0c8 #000"></div></div>
<div class="a" style="left:308px;top:131px;width:644px;height:21px;background:linear-gradient(#f6f6f6,#e8e8e8 50%,#cdcdcd);border-bottom:1px solid #000"></div>
<div class="a" style="left:308px;top:152px;width:22px;height:520px;background:linear-gradient(90deg,#f6f6f6,#e8e8e8 50%,#cdcdcd);border-right:1px solid #000"></div>
<div class="a" style="left:308px;top:131px;width:22px;height:21px;background:#fcfcfc;border-right:1px solid #000;border-bottom:1px solid #000"></div>
<svg style="left:308px;top:131px" width="21" height="20" viewBox="0 0 21 20" shape-rendering="crispEdges"><path d="M11.500 -1.500V20" stroke="#00f" stroke-dasharray="3.500 2.500" stroke-dashoffset="0"/><path d="M1 9.500H21" stroke="#00f" stroke-dasharray="3 3"/><path d="M1 2.500H21" stroke="#f00"/><rect x="0" y="2" width="1" height="1" fill="#0cc"/></svg>
<svg style="left:0;top:0" width="1024" height="744" viewBox="0 0 1024 744" shape-rendering="crispEdges"><path d="M332.5 143V151M337.5 148V151M341.5 146V151M346.5 148V151M350.5 138V151M355.5 148V151M359.5 146V151M364.5 148V151M368.5 143V151M373.5 148V151M377.5 146V151M382.5 148V151M386.5 131V151M391.5 148V151M395.5 146V151M400.5 148V151M404.5 143V151M409.5 148V151M413.5 146V151M418.5 148V151M422.5 138V151M427.5 148V151M431.5 146V151M436.5 148V151M440.5 143V151M445.5 148V151M449.5 146V151M454.5 148V151M458.5 131V151M463.5 148V151M467.5 146V151M472.5 148V151M476.5 143V151M481.5 148V151M485.5 146V151M490.5 148V151M494.5 138V151M499.5 148V151M503.5 146V151M508.5 148V151M512.5 143V151M517.5 148V151M521.5 146V151M526.5 148V151M530.5 131V151M535.5 148V151M539.5 146V151M544.5 148V151M548.5 143V151M553.5 148V151M557.5 146V151M562.5 148V151M566.5 138V151M571.5 148V151M575.5 146V151M580.5 148V151M584.5 143V151M589.5 148V151M593.5 146V151M598.5 148V151M602.5 131V151M607.5 148V151M611.5 146V151M616.5 148V151M620.5 143V151M625.5 148V151M629.5 146V151M634.5 148V151M638.5 138V151M643.5 148V151M647.5 146V151M652.5 148V151M656.5 143V151M661.5 148V151M665.5 146V151M670.5 148V151M674.5 131V151M679.5 148V151M683.5 146V151M688.5 148V151M692.5 143V151M697.5 148V151M701.5 146V151M706.5 148V151M710.5 138V151M715.5 148V151M719.5 146V151M724.5 148V151M728.5 143V151M733.5 148V151M737.5 146V151M742.5 148V151M746.5 131V151M751.5 148V151M755.5 146V151M760.5 148V151M764.5 143V151M769.5 148V151M773.5 146V151M778.5 148V151M782.5 138V151M787.5 148V151M791.5 146V151M796.5 148V151M800.5 143V151M805.5 148V151M809.5 146V151M814.5 148V151M818.5 131V151M823.5 148V151M827.5 146V151M832.5 148V151M836.5 143V151M841.5 148V151M845.5 146V151M850.5 148V151M854.5 138V151M859.5 148V151M863.5 146V151M868.5 148V151M872.5 143V151M877.5 148V151M881.5 146V151M886.5 148V151M890.5 131V151M895.5 148V151M899.5 146V151M904.5 148V151M908.5 143V151M913.5 148V151M917.5 146V151M922.5 148V151M926.5 138V151M931.5 148V151M935.5 146V151M940.5 148V151M944.5 143V151M949.5 148V151" stroke="#000" stroke-width="1" fill="none"/><path d="M326 155.5H329M321 159.5H329M326 164.5H329M324 168.5H329M326 173.5H329M316 177.5H329M326 182.5H329M324 186.5H329M326 191.5H329M321 195.5H329M326 200.5H329M324 204.5H329M326 209.5H329M309 213.5H329M326 218.5H329M324 222.5H329M326 227.5H329M321 231.5H329M326 236.5H329M324 240.5H329M326 245.5H329M316 249.5H329M326 254.5H329M324 258.5H329M326 263.5H329M321 267.5H329M326 272.5H329M324 276.5H329M326 281.5H329M309 285.5H329M326 290.5H329M324 294.5H329M326 299.5H329M321 303.5H329M326 308.5H329M324 312.5H329M326 317.5H329M316 321.5H329M326 326.5H329M324 330.5H329M326 335.5H329M321 339.5H329M326 344.5H329M324 348.5H329M326 353.5H329M309 357.5H329M326 362.5H329M324 366.5H329M326 371.5H329M321 375.5H329M326 380.5H329M324 384.5H329M326 389.5H329M316 393.5H329M326 398.5H329M324 402.5H329M326 407.5H329M321 411.5H329M326 416.5H329M324 420.5H329M326 425.5H329M309 429.5H329M326 434.5H329M324 438.5H329M326 443.5H329M321 447.5H329M326 452.5H329M324 456.5H329M326 461.5H329M316 465.5H329M326 470.5H329M324 474.5H329M326 479.5H329M321 483.5H329M326 488.5H329M324 492.5H329M326 497.5H329M309 501.5H329M326 506.5H329M324 510.5H329M326 515.5H329M321 519.5H329M326 524.5H329M324 528.5H329M326 533.5H329M316 537.5H329M326 542.5H329M324 546.5H329M326 551.5H329M321 555.5H329M326 560.5H329M324 564.5H329M326 569.5H329M309 573.5H329M326 578.5H329M324 582.5H329M326 587.5H329M321 591.5H329M326 596.5H329M324 600.5H329M326 605.5H329M316 609.5H329M326 614.5H329M324 618.5H329M326 623.5H329M321 627.5H329M326 632.5H329M324 636.5H329M326 641.5H329M309 645.5H329M326 650.5H329M324 654.5H329M326 659.5H329M321 663.5H329M326 668.5H329" stroke="#000" stroke-width="1" fill="none"/></svg>
<div class="a ss" style="left:391px;top:133px;font-size:10px;line-height:10px">1</div>
<div class="a ss" style="left:463px;top:133px;font-size:10px;line-height:10px">2</div>
<div class="a ss" style="left:535px;top:133px;font-size:10px;line-height:10px">3</div>
<div class="a ss" style="left:607px;top:133px;font-size:10px;line-height:10px">4</div>
<div class="a ss" style="left:679px;top:133px;font-size:10px;line-height:10px">5</div>
<div class="a ss" style="left:751px;top:133px;font-size:10px;line-height:10px">6</div>
<div class="a ss" style="left:823px;top:133px;font-size:10px;line-height:10px">7</div>
<div class="a ss" style="left:895px;top:133px;font-size:10px;line-height:10px">8</div>
<div class="a ss" style="left:310.500px;top:215px;font-size:10px;line-height:10px;width:10px;height:10px;transform:rotate(-90deg);transform-origin:5px 5px;text-align:center">1</div>
<div class="a ss" style="left:310.500px;top:287px;font-size:10px;line-height:10px;width:10px;height:10px;transform:rotate(-90deg);transform-origin:5px 5px;text-align:center">2</div>
<div class="a ss" style="left:310.500px;top:359px;font-size:10px;line-height:10px;width:10px;height:10px;transform:rotate(-90deg);transform-origin:5px 5px;text-align:center">3</div>
<div class="a ss" style="left:310.500px;top:431px;font-size:10px;line-height:10px;width:10px;height:10px;transform:rotate(-90deg);transform-origin:5px 5px;text-align:center">4</div>
<div class="a ss" style="left:310.500px;top:503px;font-size:10px;line-height:10px;width:10px;height:10px;transform:rotate(-90deg);transform-origin:5px 5px;text-align:center">5</div>
<div class="a ss" style="left:310.500px;top:575px;font-size:10px;line-height:10px;width:10px;height:10px;transform:rotate(-90deg);transform-origin:5px 5px;text-align:center">6</div>
<div class="a ss" style="left:310.500px;top:647px;font-size:10px;line-height:10px;width:10px;height:10px;transform:rotate(-90deg);transform-origin:5px 5px;text-align:center">7</div>
<div class="a" style="left:535px;top:131px;width:1px;height:12px;background:#f00"></div><div class="a" style="left:535px;top:143px;width:1px;height:8px;background:#0cc"></div>
<div class="a" style="left:847px;top:152px;width:1px;height:3px;background:#00f"></div>
<div class="a" style="left:330px;top:152px;width:622px;height:520px;overflow:hidden">
<svg style="left:-330px;top:-152px" width="1024" height="744" viewBox="0 0 1024 744">
<g fill="#000" shape-rendering="crispEdges">
<rect x="342" y="158" width="599" height="2"/><rect x="342" y="176" width="600" height="2"/>
<rect x="342" y="158" width="2" height="600"/><rect x="491" y="158" width="3" height="600"/><rect x="640" y="158" width="2" height="600"/><rect x="789" y="158" width="3" height="600"/><rect x="939" y="158" width="2" height="600"/>
</g>
<rect x="808.3" y="438" width="115" height="146.3" rx="9" fill="#f7fdfd" stroke="#000" stroke-width="2.2"/>
<g fill="none" stroke="#000" stroke-width="2.1">
<path d="M408 247H493"/>
<path d="M577 247H617Q625 247 625 255V359Q625 367 633 367H675"/>
<path d="M577 362H627Q635 362 635 354V256Q635 248 643 248H693"/>
<path d="M739 248H818"/>
<path d="M716 271V342"/>
<path d="M716 392V432"/>
<path d="M716 480V520"/>
<path d="M716 570V618"/>
<path d="M578 456H693"/>
<path d="M536 481V633Q536 641 544 641H693"/>
<path d="M478 256V488Q478 496 486 496H528Q536 496 536 488V481"/>
<path d="M758 367H858Q866 367 866 375V454"/>
<path d="M866 506V526"/>
<path d="M493 362H486Q479 362 479 355M493 247.500H486Q478.500 247.500 478.500 256" stroke-width="1" stroke="#333"/>
</g>
<rect x="493" y="221" width="82.7" height="50.8" rx="7.5" ry="7.5" fill="#e0f7f7" stroke="#000" stroke-width="2.3"/>
<rect x="493" y="336" width="82.7" height="50.6" rx="7.5" ry="7.5" fill="#e0f7f7" stroke="#000" stroke-width="2.3"/>
<rect x="494.5" y="429" width="82.3" height="51.6" rx="7.5" ry="7.5" fill="#e0f7f7" stroke="#000" stroke-width="2.3"/>
<rect x="674" y="341" width="83.0" height="51.0" rx="7.5" ry="7.5" fill="#e0f7f7" stroke="#000" stroke-width="2.3"/>
<rect x="674" y="519" width="83.0" height="50.8" rx="7.5" ry="7.5" fill="#e0f7f7" stroke="#000" stroke-width="2.3"/>
<rect x="824.2" y="454" width="82.6" height="51.7" rx="7.5" ry="7.5" fill="#e0f7f7" stroke="#000" stroke-width="2.3"/>
<rect x="824.2" y="525.7" width="82.6" height="49.5" rx="7.5" ry="7.5" fill="#e0f7f7" stroke="#000" stroke-width="2.3"/>
<path d="M716.3 225.8L738.8 248.3L716.3 270.8L693.8 248.3Z" fill="#efe5f0" stroke="#000" stroke-width="2.2"/>
<path d="M716.3 432L738.8 456L716.3 480L693.8 456Z" fill="#efe5f0" stroke="#000" stroke-width="2.2"/>
<path d="M716.3 618L738.8 641L716.3 664L693.8 641Z" fill="#efe5f0" stroke="#000" stroke-width="2.2"/>
<path d="M709.500 240.700L724.500 255.200M724.500 240.700L709.500 255.200" stroke="#000" stroke-width="2.2"/>
<path d="M716.200 445V467M706 456.100H727.700" stroke="#000" stroke-width="2.2"/>
<circle cx="716" cy="640.750" r="10.400" fill="none" stroke="#000" stroke-width="3"/>
<circle cx="395.500" cy="246.300" r="10.600" fill="#f8ead5" stroke="#000" stroke-width="2.2"/>
<circle cx="828.300" cy="247.100" r="10.400" fill="#f8ead5" stroke="#000" stroke-width="3"/>
<path d="M826 301H814V354H826" fill="none" stroke="#000" stroke-width="2" shape-rendering="crispEdges"/>
<rect x="706" y="552" width="13" height="13" fill="#000" shape-rendering="crispEdges"/><g fill="#d8eef0" shape-rendering="crispEdges"><rect x="709" y="555" width="3" height="3"/><rect x="714" y="555" width="3" height="3"/><rect x="709" y="560" width="3" height="3"/><rect x="714" y="560" width="3" height="3"/></g>
<path d="M532.0 218.0L539.0 225.0M539.0 218.0L532.0 225.0M532.0 270.0L539.0 277.0M539.0 270.0L532.0 277.0M490.0 244.0L497.0 251.0M497.0 244.0L490.0 251.0M574.0 244.0L581.0 251.0M581.0 244.0L574.0 251.0M532.0 333.0L539.0 340.0M539.0 333.0L532.0 340.0M532.0 385.0L539.0 392.0M539.0 385.0L532.0 392.0M490.0 359.0L497.0 366.0M497.0 359.0L490.0 366.0M574.0 359.0L581.0 366.0M581.0 359.0L574.0 366.0M533.0 426.0L540.0 433.0M540.0 426.0L533.0 433.0M533.0 479.0L540.0 486.0M540.0 479.0L533.0 486.0M491.0 453.0L498.0 460.0M498.0 453.0L491.0 460.0M575.0 453.0L582.0 460.0M582.0 453.0L575.0 460.0M713.0 338.0L720.0 345.0M720.0 338.0L713.0 345.0M713.0 390.0L720.0 397.0M720.0 390.0L713.0 397.0M671.0 364.0L678.0 371.0M678.0 364.0L671.0 371.0M755.0 364.0L762.0 371.0M762.0 364.0L755.0 371.0M713.0 516.0L720.0 523.0M720.0 516.0L713.0 523.0M713.0 568.0L720.0 575.0M720.0 568.0L713.0 575.0M671.0 542.0L678.0 549.0M678.0 542.0L671.0 549.0M755.0 542.0L762.0 549.0M762.0 542.0L755.0 549.0M863.0 451.0L870.0 458.0M870.0 451.0L863.0 458.0M863.0 504.0L870.0 511.0M870.0 504.0L863.0 511.0M821.0 477.0L828.0 484.0M828.0 477.0L821.0 484.0M905.0 477.0L912.0 484.0M912.0 477.0L905.0 484.0M863.0 523.0L870.0 530.0M870.0 523.0L863.0 530.0M863.0 575.0L870.0 582.0M870.0 575.0L863.0 582.0M821.0 548.0L828.0 555.0M828.0 548.0L821.0 555.0M905.0 548.0L912.0 555.0M912.0 548.0L905.0 555.0M713.0 222.0L720.0 229.0M720.0 222.0L713.0 229.0M713.0 268.0L720.0 275.0M720.0 268.0L713.0 275.0M690.0 245.0L697.0 252.0M697.0 245.0L690.0 252.0M736.0 245.0L743.0 252.0M743.0 245.0L736.0 252.0M713.0 427.0L720.0 434.0M720.0 427.0L713.0 434.0M713.0 477.0L720.0 484.0M720.0 477.0L713.0 484.0M690.0 453.0L697.0 460.0M697.0 453.0L690.0 460.0M736.0 453.0L743.0 460.0M743.0 453.0L736.0 460.0M713.0 614.0L720.0 621.0M720.0 614.0L713.0 621.0M713.0 661.0L720.0 668.0M720.0 661.0L713.0 668.0M690.0 638.0L697.0 645.0M697.0 638.0L690.0 645.0M736.0 638.0L743.0 645.0M743.0 638.0L736.0 645.0M393.0 232.0L400.0 239.0M400.0 232.0L393.0 239.0M393.0 256.0L400.0 263.0M400.0 256.0L393.0 263.0M381.0 244.0L388.0 251.0M388.0 244.0L381.0 251.0M405.0 244.0L412.0 251.0M412.0 244.0L405.0 251.0M826.0 233.0L833.0 240.0M833.0 233.0L826.0 240.0M826.0 257.0L833.0 264.0M833.0 257.0L826.0 264.0M814.0 245.0L821.0 252.0M821.0 245.0L814.0 252.0M838.0 245.0L845.0 252.0M845.0 245.0L838.0 252.0" stroke="#2828f0" stroke-width="1" fill="none"/>
</svg>
<div class="lbl" style="left:154.6px;top:88.0px;width:100px;white-space:nowrap">Task</div>
<div class="lbl" style="left:153.2px;top:195.0px;width:100px;white-space:nowrap">Service</div>
<div class="lbl" style="left:154.9px;top:210.0px;width:100px;white-space:nowrap">Task</div>
<div class="lbl" style="left:154.2px;top:289.0px;width:100px;white-space:nowrap">Service</div>
<div class="lbl" style="left:155.6px;top:304.0px;width:100px;white-space:nowrap">Task</div>
<div class="lbl" style="left:334.8px;top:208.0px;width:100px;white-space:nowrap">Script Task</div>
<div class="lbl" style="left:333.4px;top:371.0px;width:100px;white-space:nowrap">Eebedded</div>
<div class="lbl" style="left:333.9px;top:386.0px;width:100px;white-space:nowrap">Sub -</div>
<div class="lbl" style="left:335.5px;top:401.0px;width:100px;white-space:nowrap">Process</div>
<div class="lbl" style="left:483.8px;top:314.0px;width:100px;white-space:nowrap">Service</div>
<div class="lbl" style="left:485.8px;top:329.0px;width:100px;white-space:nowrap">Task</div>
<div class="lbl" style="left:483.8px;top:384.0px;width:100px;white-space:nowrap">Service</div>
<div class="lbl" style="left:485.8px;top:399.0px;width:100px;white-space:nowrap">Task</div>
<div class="a sf" style="left:47.5px;top:10px;width:80px;text-align:center;font-weight:bold;font-size:12.4px;line-height:16px">Pool</div>
<div class="a sf" style="left:196.5px;top:10px;width:80px;text-align:center;font-weight:bold;font-size:12.4px;line-height:16px">Pool</div>
<div class="a sf" style="left:345.5px;top:10px;width:80px;text-align:center;font-weight:bold;font-size:12.4px;line-height:16px">Pool</div>
<div class="a sf" style="left:495.5px;top:10px;width:80px;text-align:center;font-weight:bold;font-size:12.4px;line-height:16px">Pool</div>
<div class="a ss" style="left:487px;top:151px;font-size:12px;line-height:15px;white-space:pre">This is only a
testing for pool
shape</div>
</div>
<div class="a" style="left:952px;top:131px;width:16px;height:542px;background-color:#fff;background-image:linear-gradient(45deg,#d4d0c8 25%,transparent 25%,transparent 75%,#d4d0c8 75%),linear-gradient(45deg,#d4d0c8 25%,transparent 25%,transparent 75%,#d4d0c8 75%);background-size:2px 2px;background-position:0 0,1px 1px"></div>
<div class="btn3d" style="left:952px;top:131px;width:16px;height:14px"></div><svg style="left:0;top:0" width="1" height="1"><path d="M956.0 139.5h7l-3.5 -3.5z" fill="#000"/></svg>
<div class="btn3d" style="left:952px;top:657px;width:16px;height:16px"></div><svg style="left:0;top:0" width="1" height="1"><path d="M956.0 663.0h7l-3.5 3.5z" fill="#000"/></svg>
<div class="btn3d" style="left:952px;top:171px;width:16px;height:166px"></div>
<div class="a" style="left:651px;top:672px;width:301px;height:16px;background-color:#fff;background-image:linear-gradient(45deg,#d4d0c8 25%,transparent 25%,transparent 75%,#d4d0c8 75%),linear-gradient(45deg,#d4d0c8 25%,transparent 25%,transparent 75%,#d4d0c8 75%);background-size:2px 2px;background-position:0 0,1px 1px"></div>
<div class="btn3d" style="left:651px;top:672px;width:16px;height:16px"></div><svg style="left:0;top:0" width="1" height="1"><path d="M660.0 676.0v7l-3.5 -3.5z" fill="#000"/></svg>
<div class="btn3d" style="left:937px;top:672px;width:16px;height:16px"></div><svg style="left:0;top:0" width="1" height="1"><path d="M943.0 676.0v7l3.5 -3.5z" fill="#000"/></svg>
<div class="btn3d" style="left:677px;top:672px;width:72px;height:16px"></div>
<div class="a" style="left:953px;top:673px;width:15px;height:15px;background:#d4d0c8"></div>
<div class="a" style="left:309px;top:672px;width:342px;height:16px;background:#d4d0c8"></div>
<div class="a" style="left:309px;top:672px;width:337px;height:1px;background:#000"></div>
<svg style="left:0;top:0" width="1024" height="744" viewBox="0 0 1024 744"><path d="M443 687.500L449 672.500H519L512 687.500Z" fill="#fff" stroke="none"/><path d="M443.500 687.500L447 679M512.500 687.500L519 672.500M449 687.500H513" fill="none" stroke="#000"/><path d="M373 672.500L379.500 687.500H449.500L441.500 672.500" fill="none" stroke="#000"/><rect x="449" y="672" width="70" height="1" fill="#fff"/><path d="M441.500 672.500L450 687.500" stroke="#000"/><g fill="#808080"><path d="M316.500 676v8l-4.500-4zM310.500 676h1.500v8h-1.500z"/><path d="M333 676v8l-4.500-4z"/><path d="M346 676v8l4.500-4z"/><path d="M362 676v8l4.500-4zM366.500 676h1.500v8h-1.500z"/></g><path d="M646.500 672V688" stroke="#fff"/><path d="M649.500 672V688" stroke="#808080"/><path d="M650.500 672V688" stroke="#404040"/></svg>
<div class="a mono" style="left:385px;top:674px;font-size:13px;letter-spacing:-0.8px">Page  0</div>
<div class="a mono" style="left:452px;top:674px;font-size:13px;font-weight:bold;letter-spacing:0.2px">Page  1</div>
<div class="a" style="left:970px;top:130px;width:54px;height:461px;background:linear-gradient(90deg,#fff 0,#f4f3ef 2px,#dcd9d0 50px,#c2beb2 54px);border-radius:0 0 3px 3px"></div>
<div class="a" style="left:972px;top:141px;width:24px;height:440px;background:linear-gradient(90deg,#fbfbfa 0%,#f1f0ec 35%,#dcd9d0 80%,#c9c5b9 100%)"></div>
<div class="a" style="left:996px;top:141px;width:24px;height:440px;background:linear-gradient(90deg,#fbfbfa 0%,#f1f0ec 35%,#dcd9d0 80%,#c9c5b9 100%)"></div>
<div class="a" style="left:971px;top:130px;width:53px;height:11px;background:linear-gradient(90deg,#fafaf8,#e6e4de 80%,#cdc9be)"></div>
<svg style="left:974px;top:135px" width="43" height="3" viewBox="0 0 43 3" shape-rendering="crispEdges"><rect width="43" height="3" fill="url(#gr)"/></svg>
<div class="chk" style="left:973px;top:141px"></div>
<svg style="left:0;top:0" width="0" height="0"><defs><linearGradient id="sh" x1="0" y1="0" x2="1" y2="1"><stop offset="0" stop-color="#fff"/><stop offset="0.5" stop-color="#f4f4f4"/><stop offset="1" stop-color="#b0b0b0"/></linearGradient></defs></svg>
<div class="a" style="left:970px;top:688px;width:54px;height:1px;background:#808080"></div><div class="a" style="left:970px;top:689px;width:54px;height:1px;background:#fff"></div>
<svg style="left:976.5px;top:144px" width="16" height="16" viewBox="0 0 16 16"><path d="M4.5 1V12L7.0 9.500L9.3 14.500L11.3 13.500L9.0 8.800H12.5Z" fill="#fff" stroke="#000" stroke-width="1" stroke-linejoin="miter"/><path d="M7.7 9.500L10.3 14.800" stroke="#000" stroke-width="2.400"/></svg>
<svg style="left:999px;top:144px" width="16" height="16" viewBox="0 0 16 16"><circle cx="7.5" cy="7.5" r="7" fill="none" stroke="#000" stroke-dasharray="2 1.5"/><path d="M7 4v9l2-2 1.6 3.4 1.5-.7L10.5 10.3h3z" fill="#000"/></svg>
<svg style="left:976.5px;top:166px" width="16" height="16" viewBox="0 0 16 16"><path d="M2.5 1V12L5.0 9.500L7.3 14.500L9.3 13.500L7.0 8.800H10.5Z" fill="#fff" stroke="#000" stroke-width="1" stroke-linejoin="miter"/><path d="M5.7 9.500L8.3 14.800" stroke="#000" stroke-width="2.400"/><path d="M12.500 0v6M9.500 3h6" stroke="#f00" stroke-width="1.600"/></svg>
<svg style="left:999px;top:166px" width="16" height="16" viewBox="0 0 16 16"><path d="M2 6L6 2L14 3L10 7L14 12L2 13Z" fill="none" stroke="#808080"/><g fill="#d4d0c8" stroke="#808080"><rect x="0.5" y="4.5" width="3" height="3"/><rect x="4.5" y="0.5" width="3" height="3"/><rect x="12.5" y="1.5" width="3" height="3"/><rect x="8.5" y="5.5" width="3" height="3"/><rect x="12.5" y="10.5" width="3" height="3"/><rect x="0.5" y="11.5" width="3" height="3"/></g></svg>
<svg style="left:976.5px;top:188px" width="16" height="16" viewBox="0 0 16 16"><path d="M0.5 0.5L15 15" stroke="#000" stroke-width="1.3"/></svg>
<svg style="left:999px;top:188px" width="16" height="16" viewBox="0 0 16 16"><path d="M2 2L12 12" stroke="#000" stroke-width="1.5"/><path d="M14.5 14.5L7.5 12L12 7.5z" fill="#000"/></svg>
<svg style="left:976.5px;top:210px" width="16" height="16" viewBox="0 0 16 16"><path d="M8 0v16M0 8h16" stroke="#000" stroke-width="1.6"/></svg>
<svg style="left:999px;top:210px" width="16" height="16" viewBox="0 0 16 16"><path d="M1 1C7 2 7 13 14 14" fill="none" stroke="#000" stroke-width="1.5"/><path d="M2 13L13 2" stroke="#000" stroke-dasharray="1.5 1.5"/><path d="M12 12l3 2-3 1z" fill="#000"/><rect x="13" y="0" width="2.5" height="2.5" fill="#00f"/><rect x="0" y="13" width="2.5" height="2.5" fill="#00f"/></svg>
<svg style="left:976.5px;top:232px" width="16" height="16" viewBox="0 0 16 16"><path d="M0.600 14.400V5.700L3.700 2L10 9L12.900 6.600V0.600H15.500V7.600L10.500 13L4.200 6.200L2.700 7.600V11.500H6.600V14.400Z" fill="none" stroke="#000" stroke-width="1.200" stroke-linejoin="miter"/></svg>
<svg style="left:999px;top:232px" width="16" height="16" viewBox="0 0 16 16"><path d="M3 2C9 2 13 6 13 12" fill="none" stroke="#000" stroke-width="1.6"/><rect x="1" y="0.5" width="3" height="3" fill="#00c000" stroke="#00f"/><rect x="11.5" y="11" width="3" height="3" fill="#00c000" stroke="#00f"/></svg>
<svg style="left:976.5px;top:254px" width="16" height="16" viewBox="0 0 16 16"><path d="M8.500 2.300C3 2.500 0.500 5 0.500 7.500C0.500 11 4 12.700 8 12.700C11.500 12.700 14 11.500 15.300 9.300" fill="none" stroke="#000" stroke-width="1.500"/></svg>
<svg style="left:999px;top:254px" width="16" height="16" viewBox="0 0 16 16"><path d="M8 8h6.5A6.5 6 0 1 0 8 14z" fill="url(#sh)" stroke="#000" stroke-width="1.5"/></svg>
<svg style="left:976.5px;top:276px" width="16" height="16" viewBox="0 0 16 16"><path d="M1 8C2 3 7 2 9 3L15 7C15 11 10 13 7 13C3 13 1 11 1 8Z" fill="url(#sh)" stroke="#000" stroke-width="1.4"/></svg>
<svg style="left:999px;top:276px" width="16" height="16" viewBox="0 0 16 16"><path d="M1.500 2.300v11.200M14.700 2.300v11.200M2 5.700h12" stroke="#000" stroke-width="1.400" fill="none"/><path d="M2 5.700l4-2.500v5zM14.200 5.700l-4-2.500v5z" fill="#000"/></svg>
<svg style="left:976.5px;top:298px" width="16" height="16" viewBox="0 0 16 16"><path d="M2 1.5h12M2 14.5h12M8 2v12" stroke="#000" stroke-width="1.4" fill="none"/><path d="M8 2l-2.5 4h5zM8 14l-2.5-4h5z" fill="#000"/></svg>
<svg style="left:999px;top:298px" width="16" height="16" viewBox="0 0 16 16"><path d="M1.5 2V14.5H13" stroke="#000" stroke-width="1.4" fill="none"/><path d="M1.5 14.5L15 2" stroke="#808080" stroke-width="1.2"/><path d="M4 9C7 9 9 12 9 14" fill="none" stroke="#000"/><path d="M3 12l4-1-1 4z" fill="#000"/><path d="M7 5l5 5" stroke="#808080"/></svg>
<svg style="left:976.5px;top:320px" width="16" height="16" viewBox="0 0 16 16"><path d="M3 3L13 13" stroke="#000" stroke-width="1.4"/><path d="M1 6L6 1M10 15L15 10" stroke="#000" stroke-width="1.2"/><path d="M3 3l4.5 1.5-3 3zM13 13l-4.5-1.5 3-3z" fill="#000"/><path d="M1 3l3-2" stroke="#cc0"/></svg>
<svg style="left:999px;top:320px" width="16" height="16" viewBox="0 0 16 16"><rect x="6.5" y="2.5" width="9" height="8" fill="url(#sh)" stroke="#000" stroke-width="1.4"/><path d="M1 14C1 9 3 8 6.5 8" fill="none" stroke="#000" stroke-width="1.5"/></svg>
<svg style="left:976.5px;top:342px" width="16" height="16" viewBox="0 0 16 16"><path d="M1 1.5h14.5v9H9L2.5 14.5 5 10.5H1z" fill="url(#sh)" stroke="#000" stroke-width="1.3"/></svg>
<svg style="left:999px;top:342px" width="16" height="16" viewBox="0 0 16 16"><path d="M4 1.5h8.5a3 3 0 0 1 3 3v3a3 3 0 0 1-3 3H8L2.5 14.5 4.5 10.5A3 3 0 0 1 1 7.5v-3a3 3 0 0 1 3-3z" fill="url(#sh)" stroke="#000" stroke-width="1.3"/></svg>
<svg style="left:976.5px;top:364px" width="16" height="16" viewBox="0 0 16 16"><path d="M4 10C1 10 1 6 3.5 5.5C3 2.5 7 1.5 8.5 3C10 1 14 1.5 14 4.5C16.5 5 16 9 13.5 9C13 11.5 9.5 12 8.5 10.5C7 12 4.5 11.5 4 10Z" fill="url(#sh)" stroke="#000" stroke-width="1.1" stroke-dasharray="2 0.8"/><circle cx="3" cy="12.8" r="1" fill="#000"/><circle cx="1.3" cy="14.8" r=".7" fill="#000"/></svg>
<svg style="left:999px;top:364px" width="16" height="16" viewBox="0 0 16 16"><path d="M1 11C3 7 5 7 7 9C9 12 12 12 15 8" fill="none" stroke="#000" stroke-width="1.6"/><path d="M8 8L14 1L15.5 2.5L9.5 9.5z" fill="#fff" stroke="#000"/><path d="M8 8l0 2 1.8-.6z" fill="#00f"/><path d="M13 1.5l2 2" stroke="#000" stroke-width="2"/></svg>
<svg style="left:976.5px;top:386px" width="16" height="16" viewBox="0 0 16 16"><path d="M1.5 14.5V10C3 6 6 7 8 9.5C10 12 12 11.5 14.5 8.5V14.5" fill="url(#sh)" stroke="#000" stroke-width="1.5"/><path d="M1.5 14.5H14.5" stroke="#000" stroke-dasharray="1.5 1.5"/><path d="M8 7L14 0L15.5 1.5L9.5 8.5z" fill="#fff" stroke="#000"/><path d="M8 7l0 2 1.8-.6z" fill="#00f"/><path d="M13 .5l2 2" stroke="#000" stroke-width="2"/></svg>
<svg style="left:999px;top:386px" width="16" height="16" viewBox="0 0 16 16"><path d="M2.5 13V7L8 1.5H14.5L9 7L15 12.5H7" fill="url(#sh)" stroke="#000" stroke-width="1.5" stroke-linejoin="miter"/><path d="M4.5 12.5l4-2.5v5z" fill="#000"/></svg>
<svg style="left:976.5px;top:408px" width="16" height="16" viewBox="0 0 16 16"><path d="M1.5 3.5H14.5L11 12.5H1.5L7 8Z" fill="url(#sh)" stroke="#000" stroke-width="1.5"/></svg>
<svg style="left:999px;top:408px" width="16" height="16" viewBox="0 0 16 16"><ellipse cx="8" cy="8" rx="7.2" ry="4.8" fill="url(#sh)" stroke="#000" stroke-width="1.3"/></svg>
<svg style="left:976.5px;top:430px" width="16" height="16" viewBox="0 0 16 16"><circle cx="8" cy="8" r="5.6" fill="url(#sh)" stroke="#000" stroke-width="1.2"/></svg>
<svg style="left:999px;top:430px" width="16" height="16" viewBox="0 0 16 16"><rect x="1" y="3" width="14.5" height="10" fill="url(#sh)" stroke="#000" stroke-width="1.3"/></svg>
<svg style="left:976.5px;top:452px" width="16" height="16" viewBox="0 0 16 16"><rect x="3" y="2.5" width="10" height="10.5" fill="url(#sh)" stroke="#000" stroke-width="1.3"/></svg>
<svg style="left:999px;top:452px" width="16" height="16" viewBox="0 0 16 16"><rect x="1.5" y="2.5" width="13" height="10.5" rx="3.5" fill="url(#sh)" stroke="#000" stroke-width="1.3"/></svg>
<svg style="left:976.5px;top:474px" width="16" height="16" viewBox="0 0 16 16"><path d="M13.5 3C15 9 11 13.5 6 12.5C1 11.5 1.5 6 4.5 5C7.5 4 8 8 10 7.5C12 7 12.5 4.5 13.5 3Z" fill="url(#sh)" stroke="#000" stroke-width="1.5"/></svg>
<svg style="left:999px;top:474px" width="16" height="16" viewBox="0 0 16 16"><path d="M2 12C4 6 8 5 13 6" fill="none" stroke="#000" stroke-width="1.4"/><path d="M6 7C6 10 7 12 9 14" fill="none" stroke="#000" stroke-width="1.2"/><path d="M2 12L11 2" stroke="#000" stroke-dasharray="1 1.5" stroke-width=".8"/><rect x="10" y="0.5" width="2.5" height="2.5" fill="#00f"/><rect x="0.5" y="11" width="2.5" height="2.5" fill="#00f"/></svg>
<svg style="left:976.5px;top:496px" width="16" height="16" viewBox="0 0 16 16"><path d="M7 1C11 4 9 6.5 7 8C4.500 10 5 12.500 9 15" fill="none" stroke="#000" stroke-width="1.7"/></svg>
<svg style="left:999px;top:496px" width="16" height="16" viewBox="0 0 16 16"><text x="8" y="15" font-family="Liberation Serif" font-size="21" text-anchor="middle" fill="#000">T</text></svg>
<svg style="left:976.5px;top:518px" width="16" height="16" viewBox="0 0 16 16"><rect x="0" y="1" width="3.5" height="3" fill="#f00"/><rect x="3.5" y="1" width="3.500" height="3" fill="#00f"/><rect x="0" y="4" width="3.500" height="3" fill="#ff0"/><rect x="3.500" y="4" width="3.500" height="3" fill="#00f"/><rect x="0.500" y="1.500" width="6" height="5" fill="none" stroke="#000" stroke-width=".8"/><path d="M8.500 2.500h7M8.500 5h7M1 9h14M1 11.500h7M1 14h6" stroke="#00f" stroke-width="1.200"/><text x="9" y="16" font-family="Liberation Serif" font-size="10" font-weight="bold" font-style="italic" fill="#f00">A</text></svg>
<svg style="left:999px;top:518px" width="16" height="16" viewBox="0 0 16 16"><path d="M12 0.500L14 0.500L14 15L9.500 15L9.500 12L6 12L3.500 15L0 11.500L3 10Z" fill="#1a2ca0"/><path d="M9.500 5L9.500 10L6 10Z" fill="#e8e8f0"/><path d="M12 .5L3 10 0 11.500" fill="none" stroke="#4a6ad8" stroke-width="1"/></svg>
<svg style="left:976.5px;top:540px" width="16" height="16" viewBox="0 0 16 16"><circle cx="6.500" cy="6.500" r="6" fill="#1a4ad0" stroke="#000" stroke-width=".8"/><path d="M3 2.500C5 1 7 3 6 4.500C5 6 3 5 2 7C1.500 4.500 2 3.500 3 2.500ZM8 6C10 5 11.500 6 11.500 8C10 9.500 8.500 9 8 6ZM4 8.500C5.500 8 6 10 5 11.500Z" fill="#18b838"/><rect x="5.500" y="10.500" width="10" height="4.500" rx="2" fill="#fff" stroke="#000" stroke-width="1.200"/><path d="M8 12.800h5" stroke="#000" stroke-width="1.200"/></svg>
<svg style="left:999px;top:540px" width="16" height="16" viewBox="0 0 16 16"><path d="M0 -1v5l3-2.500z" fill="#000"/><rect x="3.500" y="3.500" width="12" height="11" fill="#f8f060" stroke="#000" stroke-width="1.200"/><path d="M4 14L8 9L10 11.500L12 10L15 14Z" fill="#606060"/><circle cx="12" cy="6.500" r="1.500" fill="#fff" stroke="#000" stroke-width=".7"/></svg>
<svg style="left:976.5px;top:562px" width="16" height="16" viewBox="0 0 16 16"><rect x="0.500" y="1.500" width="15" height="13" fill="#fff" stroke="#000"/><rect x="0" y="1" width="16" height="3" fill="#10206a"/><path d="M5.500 4v10.500M10.500 4v10.500M1 7.500h14M1 11h14" stroke="#b0b0b0"/></svg>
<svg style="left:999px;top:562px" width="16" height="16" viewBox="0 0 16 16"><path d="M2.500 2.500L13 13.500M13 2.500L2.500 13.500" stroke="#10c" stroke-width="2.200"/></svg>
<div class="a" style="left:0;top:689px;width:1024px;height:1px;background:#d4d0c8"></div>
<div class="tb" style="left:1px;top:691px;width:770px;height:25px"><svg class="grip" style="top:4px" width="3" height="19" viewBox="0 0 3 19" shape-rendering="crispEdges"><rect width="3" height="19" fill="url(#gr)"/></svg></div>
<div class="a" style="left:771px;top:691px;width:75px;height:25px;background:linear-gradient(90deg,rgba(212,208,200,0) 70%,#d4d0c8 100%),linear-gradient(#f6f6f3 0%,#eeede9 30%,#dedbd3 75%,#d0ccc2 100%)"></div>
<div class="a" style="left:0;top:718px;width:1024px;height:1px;background:#808080"></div><div class="a" style="left:0;top:719px;width:1024px;height:1px;background:#fff"></div>
<svg style="left:13.5px;top:695.5px" width="16" height="16" viewBox="0 0 16 16"><circle cx="8" cy="9" r="6" fill="none" stroke="#808080" stroke-width="1.3" stroke-dasharray="1.5 1.5"/><path d="M8 3H4" stroke="#808080" stroke-width="1.5"/><path d="M2 3l4-3v6z" fill="#808080"/></svg>
<svg style="left:36.5px;top:695.5px" width="16" height="16" viewBox="0 0 16 16"><path d="M1 14.500L5 6H15L11 14.500Z" fill="none" stroke="#808080" stroke-width="1.3"/><path d="M2 14.500V6M2 6h3" fill="none" stroke="#808080" stroke-width="1.3"/><path d="M4 2.500h7" fill="none" stroke="#808080" stroke-width="1.3"/><path d="M13 2.500l-4-2.500v5z" fill="#808080"/></svg>
<svg style="left:59.5px;top:695.5px" width="16" height="16" viewBox="0 0 16 16"><rect x="1" y="5.500" width="5.500" height="9" fill="none" stroke="#808080" stroke-width="1.3"/><path d="M6.500 14.500L8 8L12.500 4.500L15 7.500L11 14.500Z" fill="none" stroke="#808080" stroke-width="1.3"/><path d="M8 3C10 1 12 1 13 2" fill="none" stroke="#808080" stroke-width="1.3"/><path d="M15 3.500l-4 .5 2-4z" fill="#808080"/></svg>
<svg style="left:82.5px;top:695.5px" width="16" height="16" viewBox="0 0 16 16"><path d="M8 0.500V15.500" fill="none" stroke="#808080" stroke-width="1.3"/><path d="M6 2C2 3 1 7 1.500 9H4.500C5.500 11 6 13 6 15M10 2C14 3 15 7 14.500 9H11.500C10.500 11 10 13 10 15" fill="none" stroke="#808080" stroke-width="1.3"/><path d="M1 6l2-3 1.500 3.500zM15 10l-2 3-1.500-3.500z" fill="#808080"/></svg>
<svg style="left:105.5px;top:695.5px" width="16" height="16" viewBox="0 0 16 16"><path d="M1 14.500L5.500 3V14.500Z" fill="none" stroke="#808080" stroke-width="1.3"/><path d="M7.500 14.500H15L7.500 10" fill="none" stroke="#808080" stroke-width="1.3"/><path d="M9 3C12 3 14 5 14 8" fill="none" stroke="#808080" stroke-width="1.3"/><path d="M6.500 3l4-3v6z" fill="#808080"/><path d="M9 14l5 0-5-3z" fill="#808080"/></svg>
<svg style="left:128.5px;top:695.5px" width="16" height="16" viewBox="0 0 16 16"><path d="M15 14.500L10.500 3V14.500Z" fill="none" stroke="#808080" stroke-width="1.3"/><path d="M8.500 14.500H1L8.500 10" fill="none" stroke="#808080" stroke-width="1.3"/><path d="M7 3C4 3 2 5 2 8" fill="none" stroke="#808080" stroke-width="1.3"/><path d="M9.500 3l-4-3v6z" fill="#808080"/><path d="M7 14l-5 0 5-3z" fill="#808080"/></svg>
<svg style="left:151.5px;top:695.5px" width="16" height="16" viewBox="0 0 16 16"><path d="M1.500 13.500L6.500 2V13.500Z" fill="none" stroke="#808080" stroke-width="1.3"/><path d="M14.500 13.500L9.500 2V13.500Z" fill="none" stroke="#808080" stroke-width="1.3"/><path d="M3.500 13l2.500-6v6z" fill="#808080"/></svg>
<svg style="left:174.5px;top:695.5px" width="16" height="16" viewBox="0 0 16 16"><path d="M2 7L14.500 1.500V7Z" fill="none" stroke="#808080" stroke-width="1.3"/><path d="M2 9.500L14.500 15V9.500Z" fill="none" stroke="#808080" stroke-width="1.3"/><path d="M5 6.500l9-4v4z" fill="#808080" opacity=".5"/></svg>
<svg style="left:197.5px;top:695.5px" width="16" height="16" viewBox="0 0 16 16"><rect x="2" y="2" width="12" height="12" fill="none" stroke="#808080" stroke-width="1.3"/><rect x="6" y="6" width="8" height="8" fill="none" stroke="#808080" stroke-width="1.3"/><g fill="#e8e6e0" stroke="#808080"><rect x="0.500" y="0.500" width="3" height="3"/><rect x="12.500" y="0.500" width="3" height="3"/><rect x="0.500" y="12.500" width="3" height="3"/><rect x="12.500" y="12.500" width="3" height="3"/></g></svg>
<svg style="left:220.5px;top:695.5px" width="16" height="16" viewBox="0 0 16 16"><rect x="3" y="2" width="8" height="8" fill="none" stroke="#808080" stroke-width="1.3"/><rect x="6" y="6" width="8" height="8" fill="none" stroke="#808080" stroke-width="1.3"/><g fill="#e8e6e0" stroke="#808080"><rect x="1.500" y="0.500" width="3" height="3"/><rect x="9.500" y="0.500" width="3" height="3"/><rect x="1.500" y="8.500" width="3" height="3"/><rect x="12.500" y="4.500" width="3" height="3"/><rect x="4.500" y="12.500" width="3" height="3"/><rect x="12.500" y="12.500" width="3" height="3"/></g></svg>
<div class="a" style="left:241px;top:693px;width:22px;height:22px;background-color:#fff;background-image:linear-gradient(45deg,#d4d0c8 25%,transparent 25%,transparent 75%,#d4d0c8 75%),linear-gradient(45deg,#d4d0c8 25%,transparent 25%,transparent 75%,#d4d0c8 75%);background-size:2px 2px;background-position:0 0,1px 1px"></div>
<svg style="left:244px;top:695.5px" width="16" height="16" viewBox="0 0 16 16"><path d="M4.500 7V4.500a3.500 3.500 0 0 1 7 0V7" fill="none" stroke="#808080" stroke-width="2"/><rect x="2" y="7" width="12" height="8.500" rx="1" fill="#808080"/><rect x="4" y="9" width="3" height="5" fill="#e8e6e0"/><rect x="9" y="9" width="3" height="5" fill="#e8e6e0"/><path d="M5.500 10v3M10.500 10v3" stroke="#808080"/></svg>
<svg style="left:267px;top:695.5px" width="16" height="16" viewBox="0 0 16 16"><path d="M2 6V4a3 3 0 0 1 6 0V7" fill="none" stroke="#808080" stroke-width="2"/><rect x="4" y="7" width="11" height="8.500" rx="1" fill="#808080"/><rect x="6" y="9" width="4" height="5" fill="#e8e6e0"/><path d="M8 10v3" stroke="#808080" stroke-width="1.500"/></svg>
<svg style="left:289.5px;top:695.5px" width="16" height="16" viewBox="0 0 16 16"><path d="M2 0.500V15.500" stroke="#808080" stroke-width="1.600"/><rect x="4.500" y="2.500" width="6" height="4" fill="none" stroke="#808080" stroke-width="1.3"/><rect x="4.500" y="9.500" width="10" height="4" fill="none" stroke="#808080" stroke-width="1.3"/><path d="M4 8h8" stroke="#808080"/></svg>
<svg style="left:312.5px;top:695.5px" width="16" height="16" viewBox="0 0 16 16"><path d="M0.500 1.500H15.500" stroke="#808080" stroke-width="1.600"/><rect x="2.500" y="4" width="4" height="10" fill="none" stroke="#808080" stroke-width="1.3"/><rect x="8.500" y="4" width="3.500" height="6" fill="none" stroke="#808080" stroke-width="1.3"/><path d="M14 12V5M14 4l-2 3h4z" stroke="#808080" fill="#808080" stroke-width=".8"/></svg>
<svg style="left:335.5px;top:695.5px" width="16" height="16" viewBox="0 0 16 16"><path d="M0.500 14.500H15.500" stroke="#808080" stroke-width="1.600"/><rect x="2.500" y="2" width="4" height="10" fill="none" stroke="#808080" stroke-width="1.3"/><rect x="8.500" y="6" width="3.500" height="6" fill="none" stroke="#808080" stroke-width="1.3"/><path d="M14 4V11M14 12l-2-3h4z" stroke="#808080" fill="#808080" stroke-width=".8"/></svg>
<svg style="left:358.5px;top:695.5px" width="16" height="16" viewBox="0 0 16 16"><path d="M14 0.500V15.500" stroke="#808080" stroke-width="1.600"/><rect x="5.500" y="2.500" width="6" height="4" fill="none" stroke="#808080" stroke-width="1.3"/><rect x="1.500" y="9.500" width="10" height="4" fill="none" stroke="#808080" stroke-width="1.3"/><path d="M4 8h8" stroke="#808080"/></svg>
<svg style="left:381.5px;top:695.5px" width="16" height="16" viewBox="0 0 16 16"><path d="M0.500 8H15.500" stroke="#808080" stroke-width="1.300"/><rect x="4" y="4" width="3" height="8" fill="none" stroke="#808080" stroke-width="1.3" fill="#e8e6e0"/><rect x="9.500" y="2" width="3.500" height="12" fill="none" stroke="#808080" stroke-width="1.3" fill="#e8e6e0"/></svg>
<svg style="left:404.5px;top:695.5px" width="16" height="16" viewBox="0 0 16 16"><path d="M8 0.500V15.500" stroke="#808080" stroke-width="1.300"/><rect x="4" y="3.500" width="8" height="3" fill="none" stroke="#808080" stroke-width="1.3"/><rect x="2" y="9.500" width="12" height="3.500" fill="none" stroke="#808080" stroke-width="1.3"/></svg>
<svg style="left:428px;top:695.5px" width="16" height="16" viewBox="0 0 16 16"><rect x="0.500" y="1.500" width="15" height="13" fill="none" stroke="#808080" stroke-width="1.3"/><path d="M8 2V14" stroke="#808080"/><path d="M2 8h4M14 8h-4" stroke="#808080"/><path d="M6.500 8l-2.500-2v4zM9.500 8l2.500-2v4z" fill="#808080"/></svg>
<svg style="left:451px;top:695.5px" width="16" height="16" viewBox="0 0 16 16"><rect x="0.500" y="1.500" width="15" height="13" fill="none" stroke="#808080" stroke-width="1.3"/><rect x="3.500" y="6" width="9" height="4" fill="none" stroke="#808080" stroke-width="1.3"/><path d="M8 2.500v3M8 13.500v-3" stroke="#808080"/><path d="M8 6l-2-2h4zM8 10l-2 2h4z" fill="#808080"/></svg>
<svg style="left:474px;top:695.5px" width="16" height="16" viewBox="0 0 16 16"><path d="M1 2.500H3V13.500H1M15 2.500H13V13.500H15" fill="none" stroke="#808080" stroke-width="1.3"/><path d="M4 8h8" stroke="#808080"/><path d="M4 8l3-2.500v5zM12 8l-3-2.500v5z" fill="#808080"/></svg>
<svg style="left:497px;top:695.5px" width="16" height="16" viewBox="0 0 16 16"><path d="M2.500 1V3H13.500V1M2.500 15V13H13.500V15" fill="none" stroke="#808080" stroke-width="1.3"/><path d="M8 4v8" stroke="#808080"/><path d="M8 4l-2.500 3h5zM8 12l-2.500-3h5z" fill="#808080"/></svg>
<svg style="left:520px;top:695.5px" width="16" height="16" viewBox="0 0 16 16"><rect x="0.500" y="4.500" width="15" height="7.500" fill="none" stroke="#808080" stroke-width="1.3"/><path d="M3 8h10" stroke="#808080"/><path d="M2.500 8l3-2.500v5zM13.500 8l-3-2.500v5z" fill="#808080"/></svg>
<svg style="left:543.5px;top:695.5px" width="16" height="16" viewBox="0 0 16 16"><rect x="4" y="0.500" width="8" height="15" fill="none" stroke="#808080" stroke-width="1.3"/><path d="M8 3v10" stroke="#808080"/><path d="M8 2.500l-2.500 3h5zM8 13.500l-2.500-3h5z" fill="#808080"/></svg>
<svg style="left:566.5px;top:695.5px" width="16" height="16" viewBox="0 0 16 16"><rect x="0.500" y="1" width="15" height="14" fill="none" stroke="#808080" stroke-width="1.3"/><path d="M8 3v10M3 8h10" stroke="#808080"/><path d="M8 2.500l-2 2.500h4zM8 13.500l-2-2.500h4zM2.500 8l2.500-2v4zM13.500 8l-2.500-2v4z" fill="#808080"/></svg>
<svg style="left:590px;top:695.5px" width="16" height="16" viewBox="0 0 16 16"><rect x="0.500" y="1" width="8" height="7" fill="#808080"/><rect x="7" y="8" width="8.500" height="7" fill="#808080"/><path d="M4 5h6v6" fill="none" stroke="#808080" stroke-width="1.3"/></svg>
<svg style="left:613px;top:695.5px" width="16" height="16" viewBox="0 0 16 16"><rect x="0.500" y="1" width="8" height="7" fill="#808080"/><rect x="7" y="8" width="8.500" height="7" fill="#808080"/><path d="M5 4.500h6v6" fill="none" stroke="#808080" stroke-width="1.3"/><path d="M5 8l5-4" stroke="#808080"/></svg>
<svg style="left:635.5px;top:695.5px" width="16" height="16" viewBox="0 0 16 16"><rect x="1" y="2" width="10" height="8" fill="#e0ded8" stroke="#808080"/><rect x="5" y="6" width="10.500" height="9" fill="#808080"/></svg>
<svg style="left:658.5px;top:695.5px" width="16" height="16" viewBox="0 0 16 16"><rect x="5" y="2" width="10" height="8" fill="#e0ded8" stroke="#808080"/><rect x="1" y="6" width="10.500" height="9" fill="#808080"/><rect x="9" y="7" width="6" height="7" fill="#808080"/></svg>
<svg style="left:681px;top:695.5px" width="16" height="16" viewBox="0 0 16 16"><path d="M5 2.500H15V9L11 13H1V7Z" fill="#808080"/><path d="M6 4h8v4.500l-3 3" fill="#e0ded8"/></svg>
<div class="a" style="left:699px;top:693px;width:1px;height:22px;background:#9c988e"></div><div class="a" style="left:700px;top:693px;width:1px;height:22px;background:#fff"></div>
<div class="a" style="left:727px;top:693px;width:1px;height:22px;background:#9c988e"></div><div class="a" style="left:728px;top:693px;width:1px;height:22px;background:#fff"></div>
<div class="a" style="left:755px;top:693px;width:1px;height:22px;background:#9c988e"></div><div class="a" style="left:756px;top:693px;width:1px;height:22px;background:#fff"></div>
<svg style="left:706px;top:695.5px" width="16" height="16" viewBox="0 0 16 16"><rect x="0.500" y="5.500" width="15" height="9" rx="1.500" fill="#fff" stroke="#000" stroke-width="1.200"/><g shape-rendering="crispEdges" fill="#000"><rect x="2" y="7" width="1" height="1"/><rect x="4" y="7" width="1" height="1"/><rect x="6" y="7" width="1" height="1"/><rect x="8" y="7" width="1" height="1"/><rect x="10" y="7" width="1" height="1"/><rect x="12" y="7" width="1" height="1"/><rect x="2" y="9" width="1" height="1"/><rect x="4" y="9" width="1" height="1"/><rect x="6" y="9" width="1" height="1"/><rect x="8" y="9" width="1" height="1"/><rect x="10" y="9" width="1" height="1"/><rect x="12" y="9" width="1" height="1"/><rect x="2" y="11" width="1" height="1"/><rect x="4" y="11" width="1" height="1"/><rect x="6" y="11" width="1" height="1"/><rect x="8" y="11" width="1" height="1"/><rect x="10" y="11" width="1" height="1"/><rect x="12" y="11" width="1" height="1"/><rect x="4" y="12" width="8" height="1"/></g><path d="M4 5C4 2 6 4 7 2.500S9 4 10 2.500 12 3 12 1" fill="none" stroke="#000" stroke-width=".9"/></svg>
<svg style="left:734px;top:695.5px" width="16" height="16" viewBox="0 0 16 16"><path d="M1 1.500H15V12H11L12 15.500L8 12H1Z" fill="#ffffc0" stroke="#000" stroke-width="1.200"/><text x="8" y="11" font-family="Liberation Sans" font-weight="bold" font-size="11" text-anchor="middle" fill="#10108a">?</text></svg>
<div class="a" style="left:761px;top:699px;width:6px;height:2px;background:#000"></div>
<svg style="left:761px;top:704px" width="7" height="4"><path d="M0 0h7L3.500 3.500z" fill="#000"/></svg>
<svg style="left:773px;top:695.5px" width="16" height="16" viewBox="0 0 16 16"><rect x="3.500" y="2.500" width="11" height="11" fill="none" stroke="#808080" stroke-width="1.3"/><path d="M0.500 1v14" stroke="#808080" stroke-dasharray="1 1"/><path d="M5 8h6" stroke="#808080" stroke-width="1.500"/><path d="M12.500 8l-3.500-3v6z" fill="#808080"/></svg>
<svg style="left:795px;top:695.5px" width="16" height="16" viewBox="0 0 16 16"><rect x="2.500" y="1.500" width="11" height="11" fill="none" stroke="#808080" stroke-width="1.3"/><path d="M1 15.500h14" stroke="#808080" stroke-dasharray="1 1"/><path d="M8 11V5" stroke="#808080" stroke-width="1.500"/><path d="M8 3l-3 3.500h6z" fill="#808080"/></svg>
<svg style="left:818px;top:695.5px" width="16" height="16" viewBox="0 0 16 16"><rect x="2.500" y="3.500" width="11" height="11" fill="none" stroke="#808080" stroke-width="1.3"/><path d="M1 0.500h14" stroke="#808080" stroke-dasharray="1 1"/><path d="M8 5v6" stroke="#808080" stroke-width="1.500"/><path d="M8 13l-3-3.500h6z" fill="#808080"/></svg>
<div class="a" style="left:928px;top:722px;width:79px;height:18px;border:1px solid;border-color:#c8c4ba #e4e1da #e4e1da #c8c4ba"></div><div class="a" style="left:0px;top:722px;width:926px;height:18px;border:1px solid;border-color:#d0ccc3 #e0ddd6 #e0ddd6 #d0ccc3"></div>
<div class="a mono" style="left:2px;top:726px">Ready</div>
<div class="a mono" style="left:268px;top:726px">(Cross:7.81cm,-0.29cm)</div>
<div class="a mono" style="left:568px;top:726px">(Pos:0.00cm,0.00cm)</div>
<div class="a mono" style="left:931px;top:726px">(W X H:0.00cm</div>
<div class="a" style="left:0;top:742px;width:1024px;height:1px;background:#fff"></div>
<svg style="left:1008px;top:728px" width="14" height="14" viewBox="0 0 14 14"><path d="M13 1L1 13M13 5L5 13M13 9L9 13" stroke="#808080" stroke-width="1.500"/><path d="M13 2L2 13M13 6L6 13M13 10L10 13" stroke="#fff" stroke-width="1"/></svg>
</body></html>
